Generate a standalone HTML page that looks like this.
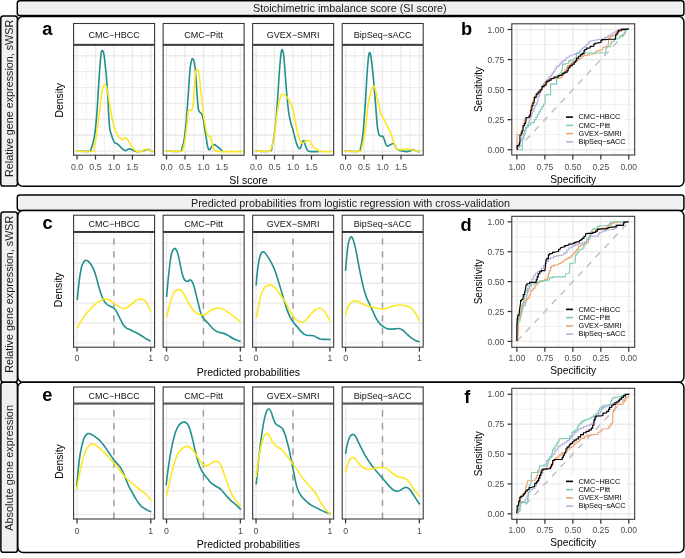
<!DOCTYPE html>
<html><head><meta charset="utf-8"><style>
html,body{margin:0;padding:0;background:#fff;}
svg{display:block;will-change:transform;}
text{font-family:"Liberation Sans", sans-serif;}
</style></head><body>
<svg width="685" height="558" viewBox="0 0 685 558">
<rect width="685" height="558" fill="#fff"/>
<rect x="17.3" y="0.8" width="666.6" height="14.7" rx="2.6" fill="#fff" stroke="#000" stroke-width="1.5"/>
<rect x="18.75" y="2.25" width="663.7" height="11.8" rx="1.15" fill="#F0F0F0"/>
<rect x="17.3" y="195" width="666.6" height="15.4" rx="2.6" fill="#fff" stroke="#000" stroke-width="1.5"/>
<rect x="18.75" y="196.45" width="663.7" height="12.5" rx="1.15" fill="#F0F0F0"/>
<rect x="0.8" y="16.1" width="16.6" height="169.9" rx="2.6" fill="#fff" stroke="#000" stroke-width="1.5"/>
<rect x="2.25" y="17.55" width="13.7" height="167" rx="1.15" fill="#F0F0F0"/>
<rect x="0.9" y="211.9" width="16.5" height="170.3" rx="2.6" fill="#fff" stroke="#000" stroke-width="1.5"/>
<rect x="2.35" y="213.35" width="13.6" height="167.4" rx="1.15" fill="#F0F0F0"/>
<rect x="0.9" y="382.2" width="16.5" height="170.1" rx="2.6" fill="#fff" stroke="#000" stroke-width="1.5"/>
<rect x="2.35" y="383.65" width="13.6" height="167.2" rx="1.15" fill="#F0F0F0"/>
<rect x="17.5" y="16.45" width="666.4" height="169.85" rx="5.2" fill="#fff" stroke="#000" stroke-width="1.5"/>
<rect x="17.8" y="210.5" width="666.1" height="171.7" rx="5.2" fill="#fff" stroke="#000" stroke-width="1.5"/>
<rect x="17.8" y="382.2" width="666.1" height="170.3" rx="5.2" fill="#fff" stroke="#000" stroke-width="1.5"/>
<text x="349.8" y="11.7" font-size="10.83" text-anchor="middle" fill="#1A1A1A" font-weight="normal">Stoichimetric imbalance score (SI score)</text>
<text x="350.5" y="206.5" font-size="10.76" text-anchor="middle" fill="#1A1A1A" font-weight="normal">Predicted probabilities from logistic regression with cross-validation</text>
<text x="13.3" y="98.4" font-size="10.76" text-anchor="middle" fill="#1A1A1A" font-weight="normal" transform="rotate(-90 13.3 98.4)">Relative gene expression, sWSR</text>
<text x="13.3" y="294.3" font-size="10.76" text-anchor="middle" fill="#1A1A1A" font-weight="normal" transform="rotate(-90 13.3 294.3)">Relative gene expression, sWSR</text>
<text x="13.4" y="467.9" font-size="10.95" text-anchor="middle" fill="#1A1A1A" font-weight="normal" transform="rotate(-90 13.4 467.9)">Absolute gene expression</text>
<rect x="73.6" y="45.3" width="81" height="109.9" fill="#fff"/>
<line x1="73.6" y1="55.7" x2="154.6" y2="55.7" stroke="#EBEBEB" stroke-width="1.4"/>
<line x1="73.6" y1="71.6" x2="154.6" y2="71.6" stroke="#EBEBEB" stroke-width="1.4"/>
<line x1="73.6" y1="87.6" x2="154.6" y2="87.6" stroke="#EBEBEB" stroke-width="1.4"/>
<line x1="73.6" y1="103.5" x2="154.6" y2="103.5" stroke="#EBEBEB" stroke-width="1.4"/>
<line x1="73.6" y1="119.4" x2="154.6" y2="119.4" stroke="#EBEBEB" stroke-width="1.4"/>
<line x1="73.6" y1="135.3" x2="154.6" y2="135.3" stroke="#EBEBEB" stroke-width="1.4"/>
<line x1="73.6" y1="151.1" x2="154.6" y2="151.1" stroke="#EBEBEB" stroke-width="1.4"/>
<line x1="77" y1="45.3" x2="77" y2="155.2" stroke="#EBEBEB" stroke-width="1.4"/>
<line x1="86.23" y1="45.3" x2="86.23" y2="155.2" stroke="#EBEBEB" stroke-width="0.75"/>
<line x1="95.47" y1="45.3" x2="95.47" y2="155.2" stroke="#EBEBEB" stroke-width="1.4"/>
<line x1="104.7" y1="45.3" x2="104.7" y2="155.2" stroke="#EBEBEB" stroke-width="0.75"/>
<line x1="113.94" y1="45.3" x2="113.94" y2="155.2" stroke="#EBEBEB" stroke-width="1.4"/>
<line x1="123.17" y1="45.3" x2="123.17" y2="155.2" stroke="#EBEBEB" stroke-width="0.75"/>
<line x1="132.41" y1="45.3" x2="132.41" y2="155.2" stroke="#EBEBEB" stroke-width="1.4"/>
<line x1="141.64" y1="45.3" x2="141.64" y2="155.2" stroke="#EBEBEB" stroke-width="0.75"/>
<line x1="150.88" y1="45.3" x2="150.88" y2="155.2" stroke="#EBEBEB" stroke-width="1.4"/>
<clipPath id="ca0"><rect x="73.6" y="45.3" width="81" height="109.9"/></clipPath>
<path d="M75.99,151.22 C78.31,151.22 87.43,151.56 89.92,151.22 C92.41,150.89 90.42,150.55 90.92,149.22 C91.41,147.88 92.24,145.88 92.91,143.2 C93.57,140.53 94.23,138.19 94.9,133.18 C95.56,128.17 96.32,120.16 96.89,113.14 C97.45,106.13 97.78,98.78 98.28,91.1 C98.78,83.41 99.37,73.39 99.87,67.05 C100.37,60.7 100.83,55.76 101.26,53.02 C101.69,50.28 102.03,50.44 102.46,50.61 C102.89,50.78 103.39,51.61 103.85,54.02 C104.32,56.42 104.81,61.2 105.24,65.04 C105.67,68.88 106.01,71.72 106.44,77.07 C106.87,82.41 107.43,90.43 107.83,97.11 C108.23,103.79 108.49,111.81 108.83,117.15 C109.16,122.49 109.42,126.34 109.82,129.18 C110.22,132.01 110.72,132.52 111.21,134.19 C111.71,135.86 112.21,137.76 112.81,139.2 C113.4,140.63 114.13,142.07 114.8,142.8 C115.46,143.54 116.12,143.2 116.79,143.61 C117.45,144.01 118.11,144.61 118.78,145.21 C119.44,145.81 120.1,146.54 120.77,147.21 C121.43,147.88 121.99,148.62 122.76,149.22 C123.52,149.82 124.58,150.75 125.34,150.82 C126.11,150.89 126.6,149.95 127.33,149.62 C128.06,149.28 128.93,148.78 129.72,148.82 C130.52,148.85 131.28,149.42 132.11,149.82 C132.94,150.22 133.77,150.92 134.7,151.22 C135.63,151.52 136.52,151.62 137.68,151.62 C138.84,151.62 140.5,151.42 141.66,151.22 C142.82,151.02 143.82,150.69 144.65,150.42 C145.48,150.15 145.97,149.75 146.64,149.62 C147.3,149.48 147.96,149.42 148.63,149.62 C149.29,149.82 149.85,150.49 150.62,150.82 C151.38,151.15 152.77,151.49 153.2,151.62" fill="none" stroke="#21908C" stroke-width="1.6" stroke-linejoin="round" stroke-linecap="butt" clip-path="url(#ca0)"/>
<path d="M75.99,151.22 C78.81,151.22 89.92,151.89 92.91,151.22 C95.89,150.55 93.4,149.22 93.9,147.21 C94.4,145.21 95.23,142.87 95.89,139.2 C96.55,135.52 97.22,130.18 97.88,125.17 C98.54,120.16 99.21,114.48 99.87,109.13 C100.53,103.79 101.26,96.94 101.86,93.1 C102.46,89.26 102.96,87.49 103.45,86.09 C103.95,84.68 104.35,84.52 104.85,84.68 C105.34,84.85 105.87,85.35 106.44,87.09 C107,88.82 107.67,92.1 108.23,95.1 C108.79,98.11 109.22,101.45 109.82,105.13 C110.42,108.8 111.15,113.81 111.81,117.15 C112.47,120.49 113.14,122.83 113.8,125.17 C114.46,127.51 115.06,129.34 115.79,131.18 C116.52,133.02 117.35,134.92 118.18,136.19 C119.01,137.46 119.9,138.29 120.77,138.8 C121.63,139.3 122.59,139.4 123.35,139.2 C124.12,139 124.68,137.59 125.34,137.59 C126.01,137.59 126.6,138.26 127.33,139.2 C128.06,140.13 128.93,141.87 129.72,143.2 C130.52,144.54 131.28,146.04 132.11,147.21 C132.94,148.38 133.77,149.48 134.7,150.22 C135.63,150.95 136.69,151.39 137.68,151.62 C138.68,151.86 139.67,151.86 140.67,151.62 C141.66,151.39 142.76,150.62 143.65,150.22 C144.55,149.82 145.21,149.22 146.04,149.22 C146.87,149.22 147.7,149.89 148.63,150.22 C149.56,150.55 150.78,150.99 151.61,151.22 C152.44,151.46 153.27,151.56 153.6,151.62" fill="none" stroke="#FDE725" stroke-width="1.6" stroke-linejoin="round" stroke-linecap="butt" clip-path="url(#ca0)"/>
<rect x="73.6" y="45.3" width="81" height="109.9" fill="none" stroke="#333333" stroke-width="1.07"/>
<rect x="73.6" y="23.5" width="81" height="20.9" fill="#fff" stroke="#333333" stroke-width="1.07"/>
<text x="114.1" y="37.55" font-size="9" text-anchor="middle" fill="#111" font-weight="normal">CMC−HBCC</text>
<line x1="77" y1="155.2" x2="77" y2="159.6" stroke="#333333" stroke-width="1.25"/>
<text x="77" y="170.3" font-size="8.8" text-anchor="middle" fill="#4D4D4D" font-weight="normal">0.0</text>
<line x1="95.47" y1="155.2" x2="95.47" y2="159.6" stroke="#333333" stroke-width="1.25"/>
<text x="95.47" y="170.3" font-size="8.8" text-anchor="middle" fill="#4D4D4D" font-weight="normal">0.5</text>
<line x1="113.94" y1="155.2" x2="113.94" y2="159.6" stroke="#333333" stroke-width="1.25"/>
<text x="113.94" y="170.3" font-size="8.8" text-anchor="middle" fill="#4D4D4D" font-weight="normal">1.0</text>
<line x1="132.41" y1="155.2" x2="132.41" y2="159.6" stroke="#333333" stroke-width="1.25"/>
<text x="132.41" y="170.3" font-size="8.8" text-anchor="middle" fill="#4D4D4D" font-weight="normal">1.5</text>
<rect x="163.13" y="45.3" width="81" height="109.9" fill="#fff"/>
<line x1="163.13" y1="55.7" x2="244.13" y2="55.7" stroke="#EBEBEB" stroke-width="1.4"/>
<line x1="163.13" y1="71.6" x2="244.13" y2="71.6" stroke="#EBEBEB" stroke-width="1.4"/>
<line x1="163.13" y1="87.6" x2="244.13" y2="87.6" stroke="#EBEBEB" stroke-width="1.4"/>
<line x1="163.13" y1="103.5" x2="244.13" y2="103.5" stroke="#EBEBEB" stroke-width="1.4"/>
<line x1="163.13" y1="119.4" x2="244.13" y2="119.4" stroke="#EBEBEB" stroke-width="1.4"/>
<line x1="163.13" y1="135.3" x2="244.13" y2="135.3" stroke="#EBEBEB" stroke-width="1.4"/>
<line x1="163.13" y1="151.1" x2="244.13" y2="151.1" stroke="#EBEBEB" stroke-width="1.4"/>
<line x1="166.53" y1="45.3" x2="166.53" y2="155.2" stroke="#EBEBEB" stroke-width="1.4"/>
<line x1="175.76" y1="45.3" x2="175.76" y2="155.2" stroke="#EBEBEB" stroke-width="0.75"/>
<line x1="185" y1="45.3" x2="185" y2="155.2" stroke="#EBEBEB" stroke-width="1.4"/>
<line x1="194.24" y1="45.3" x2="194.24" y2="155.2" stroke="#EBEBEB" stroke-width="0.75"/>
<line x1="203.47" y1="45.3" x2="203.47" y2="155.2" stroke="#EBEBEB" stroke-width="1.4"/>
<line x1="212.7" y1="45.3" x2="212.7" y2="155.2" stroke="#EBEBEB" stroke-width="0.75"/>
<line x1="221.94" y1="45.3" x2="221.94" y2="155.2" stroke="#EBEBEB" stroke-width="1.4"/>
<line x1="231.18" y1="45.3" x2="231.18" y2="155.2" stroke="#EBEBEB" stroke-width="0.75"/>
<line x1="240.41" y1="45.3" x2="240.41" y2="155.2" stroke="#EBEBEB" stroke-width="1.4"/>
<clipPath id="ca1"><rect x="163.13" y="45.3" width="81" height="109.9"/></clipPath>
<path d="M164.99,151.22 C167.48,151.22 177.1,151.72 179.92,151.22 C182.73,150.72 181.24,149.89 181.91,148.22 C182.57,146.54 183.23,145.04 183.9,141.2 C184.56,137.36 185.29,131.18 185.89,125.17 C186.48,119.15 186.98,111.81 187.48,105.13 C187.98,98.44 188.41,91.43 188.87,85.08 C189.33,78.74 189.77,71.32 190.26,67.05 C190.76,62.77 191.42,60.77 191.86,59.43 C192.29,58.09 192.45,58.6 192.85,59.03 C193.25,59.46 193.81,60.03 194.24,62.04 C194.67,64.04 195.07,67.21 195.44,71.05 C195.8,74.9 196.1,80.41 196.43,85.08 C196.76,89.76 197.1,95.1 197.43,99.11 C197.76,103.12 198.02,106.96 198.42,109.13 C198.82,111.3 199.25,111.3 199.82,112.14 C200.38,112.98 201.24,112.98 201.81,114.14 C202.37,115.31 202.7,116.65 203.2,119.15 C203.7,121.66 204.26,125.84 204.79,129.18 C205.32,132.52 205.89,136.19 206.38,139.2 C206.88,142.2 207.31,145.48 207.78,147.21 C208.24,148.95 208.67,149.45 209.17,149.62 C209.67,149.79 210.16,148.95 210.76,148.22 C211.36,147.48 212.09,145.81 212.75,145.21 C213.41,144.61 214.08,144.44 214.74,144.61 C215.4,144.77 215.97,145.61 216.73,146.21 C217.49,146.81 218.56,147.55 219.32,148.22 C220.08,148.88 220.74,149.72 221.31,150.22 C221.87,150.72 222.47,151.05 222.7,151.22" fill="none" stroke="#21908C" stroke-width="1.6" stroke-linejoin="round" stroke-linecap="butt" clip-path="url(#ca1)"/>
<path d="M164.99,151.22 C167.64,151.22 177.93,151.56 180.91,151.22 C183.9,150.89 182.24,150.89 182.9,149.22 C183.56,147.55 184.23,145.21 184.89,141.2 C185.55,137.19 186.32,130.18 186.88,125.17 C187.44,120.16 187.78,113.64 188.27,111.14 C188.77,108.63 189.27,110.3 189.87,110.14 C190.46,109.97 191.29,111.3 191.86,110.14 C192.42,108.97 192.85,106.63 193.25,103.12 C193.65,99.61 193.91,93.77 194.24,89.09 C194.58,84.42 194.87,78.4 195.24,75.06 C195.6,71.72 196,69.89 196.43,69.05 C196.86,68.22 197.36,69.05 197.83,70.05 C198.29,71.05 198.72,71.56 199.22,75.06 C199.72,78.57 200.28,86.09 200.81,91.1 C201.34,96.11 201.91,100.78 202.4,105.13 C202.9,109.47 203.33,113.81 203.8,117.15 C204.26,120.49 204.69,122.49 205.19,125.17 C205.69,127.84 206.25,131.35 206.78,133.18 C207.31,135.02 207.78,135.59 208.37,136.19 C208.97,136.79 209.8,135.96 210.36,136.79 C210.93,137.63 211.29,139.46 211.76,141.2 C212.22,142.94 212.65,145.71 213.15,147.21 C213.65,148.72 214.14,149.55 214.74,150.22 C215.34,150.89 215.4,150.99 216.73,151.22 C218.06,151.46 218.39,151.56 222.7,151.62 C227.01,151.69 239.29,151.62 242.6,151.62" fill="none" stroke="#FDE725" stroke-width="1.6" stroke-linejoin="round" stroke-linecap="butt" clip-path="url(#ca1)"/>
<rect x="163.13" y="45.3" width="81" height="109.9" fill="none" stroke="#333333" stroke-width="1.07"/>
<rect x="163.13" y="23.5" width="81" height="20.9" fill="#fff" stroke="#333333" stroke-width="1.07"/>
<text x="203.63" y="37.55" font-size="9" text-anchor="middle" fill="#111" font-weight="normal">CMC−Pitt</text>
<line x1="166.53" y1="155.2" x2="166.53" y2="159.6" stroke="#333333" stroke-width="1.25"/>
<text x="166.53" y="170.3" font-size="8.8" text-anchor="middle" fill="#4D4D4D" font-weight="normal">0.0</text>
<line x1="185" y1="155.2" x2="185" y2="159.6" stroke="#333333" stroke-width="1.25"/>
<text x="185" y="170.3" font-size="8.8" text-anchor="middle" fill="#4D4D4D" font-weight="normal">0.5</text>
<line x1="203.47" y1="155.2" x2="203.47" y2="159.6" stroke="#333333" stroke-width="1.25"/>
<text x="203.47" y="170.3" font-size="8.8" text-anchor="middle" fill="#4D4D4D" font-weight="normal">1.0</text>
<line x1="221.94" y1="155.2" x2="221.94" y2="159.6" stroke="#333333" stroke-width="1.25"/>
<text x="221.94" y="170.3" font-size="8.8" text-anchor="middle" fill="#4D4D4D" font-weight="normal">1.5</text>
<rect x="252.66" y="45.3" width="81" height="109.9" fill="#fff"/>
<line x1="252.66" y1="55.7" x2="333.66" y2="55.7" stroke="#EBEBEB" stroke-width="1.4"/>
<line x1="252.66" y1="71.6" x2="333.66" y2="71.6" stroke="#EBEBEB" stroke-width="1.4"/>
<line x1="252.66" y1="87.6" x2="333.66" y2="87.6" stroke="#EBEBEB" stroke-width="1.4"/>
<line x1="252.66" y1="103.5" x2="333.66" y2="103.5" stroke="#EBEBEB" stroke-width="1.4"/>
<line x1="252.66" y1="119.4" x2="333.66" y2="119.4" stroke="#EBEBEB" stroke-width="1.4"/>
<line x1="252.66" y1="135.3" x2="333.66" y2="135.3" stroke="#EBEBEB" stroke-width="1.4"/>
<line x1="252.66" y1="151.1" x2="333.66" y2="151.1" stroke="#EBEBEB" stroke-width="1.4"/>
<line x1="256.06" y1="45.3" x2="256.06" y2="155.2" stroke="#EBEBEB" stroke-width="1.4"/>
<line x1="265.3" y1="45.3" x2="265.3" y2="155.2" stroke="#EBEBEB" stroke-width="0.75"/>
<line x1="274.53" y1="45.3" x2="274.53" y2="155.2" stroke="#EBEBEB" stroke-width="1.4"/>
<line x1="283.76" y1="45.3" x2="283.76" y2="155.2" stroke="#EBEBEB" stroke-width="0.75"/>
<line x1="293" y1="45.3" x2="293" y2="155.2" stroke="#EBEBEB" stroke-width="1.4"/>
<line x1="302.24" y1="45.3" x2="302.24" y2="155.2" stroke="#EBEBEB" stroke-width="0.75"/>
<line x1="311.47" y1="45.3" x2="311.47" y2="155.2" stroke="#EBEBEB" stroke-width="1.4"/>
<line x1="320.7" y1="45.3" x2="320.7" y2="155.2" stroke="#EBEBEB" stroke-width="0.75"/>
<line x1="329.94" y1="45.3" x2="329.94" y2="155.2" stroke="#EBEBEB" stroke-width="1.4"/>
<clipPath id="ca2"><rect x="252.66" y="45.3" width="81" height="109.9"/></clipPath>
<path d="M254.99,151.22 C257.48,151.22 267.1,151.89 269.92,151.22 C272.73,150.55 271.24,149.55 271.91,147.21 C272.57,144.87 273.23,141.53 273.9,137.19 C274.56,132.85 275.29,127.17 275.89,121.16 C276.48,115.15 276.98,108.13 277.48,101.12 C277.98,94.1 278.41,85.75 278.87,79.07 C279.33,72.39 279.83,65.71 280.26,61.03 C280.69,56.36 281.09,52.85 281.46,51.01 C281.82,49.18 282.09,49.34 282.45,50.01 C282.82,50.68 283.25,51.85 283.65,55.02 C284.04,58.19 284.44,64.04 284.84,69.05 C285.24,74.06 285.64,80.07 286.03,85.08 C286.43,90.09 286.76,94.44 287.23,99.11 C287.69,103.79 288.22,109.13 288.82,113.14 C289.42,117.15 290.15,120.49 290.81,123.16 C291.47,125.84 292.14,126.84 292.8,129.18 C293.46,131.51 294.13,134.69 294.79,137.19 C295.45,139.7 296.12,142.37 296.78,144.21 C297.44,146.04 298.17,147.55 298.77,148.22 C299.37,148.88 299.87,148.88 300.36,148.22 C300.86,147.55 301.29,145.44 301.76,144.21 C302.22,142.97 302.72,141.3 303.15,140.8 C303.58,140.3 303.98,140.47 304.34,141.2 C304.71,141.94 304.94,143.87 305.34,145.21 C305.74,146.54 306.17,148.22 306.73,149.22 C307.3,150.22 307.73,150.82 308.72,151.22 C309.72,151.62 311.04,151.56 312.7,151.62 C314.36,151.69 317.68,151.62 318.67,151.62" fill="none" stroke="#21908C" stroke-width="1.6" stroke-linejoin="round" stroke-linecap="butt" clip-path="url(#ca2)"/>
<path d="M254.99,151.22 C257.31,151.22 266.27,151.56 268.92,151.22 C271.57,150.89 270.25,150.55 270.91,149.22 C271.57,147.88 272.24,146.21 272.9,143.2 C273.56,140.2 274.23,135.86 274.89,131.18 C275.55,126.5 276.22,119.82 276.88,115.15 C277.54,110.47 278.21,106.29 278.87,103.12 C279.53,99.95 280.2,97.61 280.86,96.11 C281.52,94.6 282.19,94.27 282.85,94.1 C283.51,93.94 284.18,94.6 284.84,95.1 C285.5,95.61 286.17,96.27 286.83,97.11 C287.49,97.94 288.16,99.11 288.82,100.11 C289.48,101.12 290.15,101.62 290.81,103.12 C291.47,104.62 292.14,106.46 292.8,109.13 C293.46,111.81 294.13,115.81 294.79,119.15 C295.45,122.49 296.12,126.17 296.78,129.18 C297.44,132.18 298.11,135.02 298.77,137.19 C299.43,139.36 300.1,141.2 300.76,142.2 C301.42,143.2 302.02,143.3 302.75,143.2 C303.48,143.1 304.31,142.1 305.14,141.6 C305.97,141.1 306.96,140.27 307.73,140.2 C308.49,140.13 309.05,140.53 309.72,141.2 C310.38,141.87 311.04,143.2 311.71,144.21 C312.37,145.21 312.87,146.38 313.7,147.21 C314.53,148.05 315.69,148.62 316.68,149.22 C317.68,149.82 318.67,150.42 319.67,150.82 C320.66,151.22 320.5,151.49 322.65,151.62 C324.81,151.76 330.94,151.62 332.6,151.62" fill="none" stroke="#FDE725" stroke-width="1.6" stroke-linejoin="round" stroke-linecap="butt" clip-path="url(#ca2)"/>
<rect x="252.66" y="45.3" width="81" height="109.9" fill="none" stroke="#333333" stroke-width="1.07"/>
<rect x="252.66" y="23.5" width="81" height="20.9" fill="#fff" stroke="#333333" stroke-width="1.07"/>
<text x="293.16" y="37.55" font-size="9" text-anchor="middle" fill="#111" font-weight="normal">GVEX−SMRI</text>
<line x1="256.06" y1="155.2" x2="256.06" y2="159.6" stroke="#333333" stroke-width="1.25"/>
<text x="256.06" y="170.3" font-size="8.8" text-anchor="middle" fill="#4D4D4D" font-weight="normal">0.0</text>
<line x1="274.53" y1="155.2" x2="274.53" y2="159.6" stroke="#333333" stroke-width="1.25"/>
<text x="274.53" y="170.3" font-size="8.8" text-anchor="middle" fill="#4D4D4D" font-weight="normal">0.5</text>
<line x1="293" y1="155.2" x2="293" y2="159.6" stroke="#333333" stroke-width="1.25"/>
<text x="293" y="170.3" font-size="8.8" text-anchor="middle" fill="#4D4D4D" font-weight="normal">1.0</text>
<line x1="311.47" y1="155.2" x2="311.47" y2="159.6" stroke="#333333" stroke-width="1.25"/>
<text x="311.47" y="170.3" font-size="8.8" text-anchor="middle" fill="#4D4D4D" font-weight="normal">1.5</text>
<rect x="342.19" y="45.3" width="81" height="109.9" fill="#fff"/>
<line x1="342.19" y1="55.7" x2="423.19" y2="55.7" stroke="#EBEBEB" stroke-width="1.4"/>
<line x1="342.19" y1="71.6" x2="423.19" y2="71.6" stroke="#EBEBEB" stroke-width="1.4"/>
<line x1="342.19" y1="87.6" x2="423.19" y2="87.6" stroke="#EBEBEB" stroke-width="1.4"/>
<line x1="342.19" y1="103.5" x2="423.19" y2="103.5" stroke="#EBEBEB" stroke-width="1.4"/>
<line x1="342.19" y1="119.4" x2="423.19" y2="119.4" stroke="#EBEBEB" stroke-width="1.4"/>
<line x1="342.19" y1="135.3" x2="423.19" y2="135.3" stroke="#EBEBEB" stroke-width="1.4"/>
<line x1="342.19" y1="151.1" x2="423.19" y2="151.1" stroke="#EBEBEB" stroke-width="1.4"/>
<line x1="345.59" y1="45.3" x2="345.59" y2="155.2" stroke="#EBEBEB" stroke-width="1.4"/>
<line x1="354.83" y1="45.3" x2="354.83" y2="155.2" stroke="#EBEBEB" stroke-width="0.75"/>
<line x1="364.06" y1="45.3" x2="364.06" y2="155.2" stroke="#EBEBEB" stroke-width="1.4"/>
<line x1="373.3" y1="45.3" x2="373.3" y2="155.2" stroke="#EBEBEB" stroke-width="0.75"/>
<line x1="382.53" y1="45.3" x2="382.53" y2="155.2" stroke="#EBEBEB" stroke-width="1.4"/>
<line x1="391.77" y1="45.3" x2="391.77" y2="155.2" stroke="#EBEBEB" stroke-width="0.75"/>
<line x1="401" y1="45.3" x2="401" y2="155.2" stroke="#EBEBEB" stroke-width="1.4"/>
<line x1="410.24" y1="45.3" x2="410.24" y2="155.2" stroke="#EBEBEB" stroke-width="0.75"/>
<line x1="419.47" y1="45.3" x2="419.47" y2="155.2" stroke="#EBEBEB" stroke-width="1.4"/>
<clipPath id="ca3"><rect x="342.19" y="45.3" width="81" height="109.9"/></clipPath>
<path d="M343.99,151.22 C346.48,151.22 356.16,151.72 358.92,151.22 C361.67,150.72 359.94,150.22 360.51,148.22 C361.07,146.21 361.73,143.37 362.3,139.2 C362.86,135.02 363.36,129.51 363.89,123.16 C364.42,116.82 364.99,108.8 365.48,101.12 C365.98,93.43 366.41,84.08 366.88,77.07 C367.34,70.05 367.84,63.1 368.27,59.03 C368.7,54.95 369.03,53.12 369.46,52.62 C369.89,52.11 370.39,53.62 370.86,56.02 C371.32,58.43 371.75,62.54 372.25,67.05 C372.75,71.56 373.38,78.07 373.84,83.08 C374.31,88.09 374.64,92.1 375.03,97.11 C375.43,102.12 375.83,108.13 376.23,113.14 C376.63,118.15 376.99,123.66 377.42,127.17 C377.85,130.68 378.25,132.68 378.82,134.19 C379.38,135.69 380.14,135.86 380.81,136.19 C381.47,136.52 382.23,135.69 382.8,136.19 C383.36,136.69 383.69,137.86 384.19,139.2 C384.69,140.53 385.25,143.04 385.78,144.21 C386.31,145.38 386.78,146.04 387.37,146.21 C387.97,146.38 388.7,145.54 389.36,145.21 C390.03,144.87 390.62,144.47 391.35,144.21 C392.08,143.94 393.01,143.1 393.74,143.61 C394.47,144.11 395.07,146.21 395.73,147.21 C396.39,148.22 396.89,149.02 397.72,149.62 C398.55,150.22 399.71,150.55 400.71,150.82 C401.7,151.09 402.53,151.09 403.69,151.22 C404.85,151.36 406.51,151.69 407.67,151.62 C408.83,151.56 409.83,151.15 410.66,150.82 C411.49,150.49 411.98,149.72 412.65,149.62 C413.31,149.52 413.97,149.95 414.64,150.22 C415.3,150.49 415.8,150.99 416.63,151.22 C417.46,151.46 419.11,151.56 419.61,151.62" fill="none" stroke="#21908C" stroke-width="1.6" stroke-linejoin="round" stroke-linecap="butt" clip-path="url(#ca3)"/>
<path d="M343.99,151.22 C346.64,151.22 356.93,151.89 359.91,151.22 C362.9,150.55 361.24,149.22 361.9,147.21 C362.56,145.21 363.29,142.2 363.89,139.2 C364.49,136.19 364.99,133.18 365.48,129.18 C365.98,125.17 366.38,119.49 366.88,115.15 C367.37,110.8 367.9,106.46 368.47,103.12 C369.03,99.78 369.69,97.44 370.26,95.1 C370.82,92.77 371.25,90.6 371.85,89.09 C372.45,87.59 373.24,85.92 373.84,86.09 C374.44,86.25 374.9,88.26 375.43,90.09 C375.96,91.93 376.46,94.6 377.02,97.11 C377.59,99.61 378.19,102.45 378.82,105.13 C379.45,107.8 380.14,111.14 380.81,113.14 C381.47,115.15 382.13,115.81 382.8,117.15 C383.46,118.49 384.12,119.82 384.79,121.16 C385.45,122.49 386.11,123.83 386.78,125.17 C387.44,126.5 388.1,127.84 388.77,129.18 C389.43,130.51 390.09,131.51 390.76,133.18 C391.42,134.85 392.08,137.19 392.75,139.2 C393.41,141.2 394.07,143.61 394.74,145.21 C395.4,146.81 396.06,148.08 396.73,148.82 C397.39,149.55 397.89,149.48 398.72,149.62 C399.55,149.75 400.54,149.68 401.7,149.62 C402.86,149.55 404.52,149.28 405.68,149.22 C406.84,149.15 407.67,149.15 408.67,149.22 C409.66,149.28 410.82,149.45 411.65,149.62 C412.48,149.79 412.81,149.95 413.64,150.22 C414.47,150.49 415.63,150.99 416.63,151.22 C417.62,151.46 419.11,151.56 419.61,151.62" fill="none" stroke="#FDE725" stroke-width="1.6" stroke-linejoin="round" stroke-linecap="butt" clip-path="url(#ca3)"/>
<rect x="342.19" y="45.3" width="81" height="109.9" fill="none" stroke="#333333" stroke-width="1.07"/>
<rect x="342.19" y="23.5" width="81" height="20.9" fill="#fff" stroke="#333333" stroke-width="1.07"/>
<text x="382.69" y="37.55" font-size="9" text-anchor="middle" fill="#111" font-weight="normal">BipSeq−sACC</text>
<line x1="345.59" y1="155.2" x2="345.59" y2="159.6" stroke="#333333" stroke-width="1.25"/>
<text x="345.59" y="170.3" font-size="8.8" text-anchor="middle" fill="#4D4D4D" font-weight="normal">0.0</text>
<line x1="364.06" y1="155.2" x2="364.06" y2="159.6" stroke="#333333" stroke-width="1.25"/>
<text x="364.06" y="170.3" font-size="8.8" text-anchor="middle" fill="#4D4D4D" font-weight="normal">0.5</text>
<line x1="382.53" y1="155.2" x2="382.53" y2="159.6" stroke="#333333" stroke-width="1.25"/>
<text x="382.53" y="170.3" font-size="8.8" text-anchor="middle" fill="#4D4D4D" font-weight="normal">1.0</text>
<line x1="401" y1="155.2" x2="401" y2="159.6" stroke="#333333" stroke-width="1.25"/>
<text x="401" y="170.3" font-size="8.8" text-anchor="middle" fill="#4D4D4D" font-weight="normal">1.5</text>
<text x="62.5" y="100.25" font-size="10.4" text-anchor="middle" fill="#000" font-weight="normal" transform="rotate(-90 62.5 100.25)">Density</text>
<text x="248.4" y="183.6" font-size="10.5" text-anchor="middle" fill="#000" font-weight="normal">SI score</text>
<rect x="73.6" y="232.4" width="81" height="114.8" fill="#fff"/>
<line x1="73.6" y1="243.4" x2="154.6" y2="243.4" stroke="#EBEBEB" stroke-width="1.4"/>
<line x1="73.6" y1="263.3" x2="154.6" y2="263.3" stroke="#EBEBEB" stroke-width="1.4"/>
<line x1="73.6" y1="283.2" x2="154.6" y2="283.2" stroke="#EBEBEB" stroke-width="1.4"/>
<line x1="73.6" y1="303.1" x2="154.6" y2="303.1" stroke="#EBEBEB" stroke-width="1.4"/>
<line x1="73.6" y1="323" x2="154.6" y2="323" stroke="#EBEBEB" stroke-width="1.4"/>
<line x1="73.6" y1="342.9" x2="154.6" y2="342.9" stroke="#EBEBEB" stroke-width="1.4"/>
<line x1="77" y1="232.4" x2="77" y2="347.2" stroke="#EBEBEB" stroke-width="1.4"/>
<line x1="113.9" y1="232.4" x2="113.9" y2="347.2" stroke="#EBEBEB" stroke-width="0.75"/>
<line x1="150.8" y1="232.4" x2="150.8" y2="347.2" stroke="#EBEBEB" stroke-width="1.4"/>
<line x1="113.9" y1="347.2" x2="113.9" y2="232.4" stroke="#9A9A9A" stroke-width="1.45" stroke-dasharray="6.4 6.4"/>
<clipPath id="cc0"><rect x="73.6" y="232.4" width="81" height="114.8"/></clipPath>
<path d="M77.2,300.2 C77.37,298.45 77.83,293.56 78.25,289.71 C78.67,285.87 79.19,280.8 79.72,277.13 C80.24,273.46 80.76,270.14 81.39,267.7 C82.02,265.25 82.79,263.68 83.49,262.45 C84.19,261.23 84.89,260.6 85.59,260.36 C86.29,260.11 86.99,260.57 87.69,260.99 C88.39,261.4 89.02,261.93 89.79,262.87 C90.56,263.82 91.5,265.14 92.31,266.65 C93.11,268.15 93.88,269.86 94.62,271.89 C95.35,273.92 96.05,276.47 96.71,278.81 C97.38,281.15 97.94,283.6 98.6,285.94 C99.27,288.28 100,290.76 100.7,292.86 C101.4,294.95 102.1,296.95 102.8,298.52 C103.5,300.09 104.09,301.25 104.9,302.29 C105.7,303.34 106.65,304.11 107.63,304.81 C108.61,305.51 109.73,305.93 110.78,306.49 C111.82,307.05 113.05,307.47 113.92,308.17 C114.8,308.86 115.32,309.56 116.02,310.68 C116.72,311.8 117.32,313.3 118.12,314.88 C118.93,316.45 119.97,318.44 120.85,320.12 C121.72,321.79 122.42,323.61 123.37,324.94 C124.31,326.27 125.47,327.32 126.52,328.09 C127.56,328.85 128.44,328.96 129.66,329.55 C130.89,330.15 132.46,330.95 133.86,331.65 C135.26,332.35 136.66,332.98 138.06,333.75 C139.46,334.52 140.86,335.39 142.25,336.26 C143.65,337.14 145.05,338.19 146.45,338.99 C147.85,339.79 149.95,340.74 150.65,341.09" fill="none" stroke="#21908C" stroke-width="1.6" stroke-linejoin="round" stroke-linecap="butt" clip-path="url(#cc0)"/>
<path d="M77.2,328.5 C77.55,327.81 78.42,325.88 79.3,324.31 C80.17,322.74 81.39,320.71 82.44,319.07 C83.49,317.43 84.54,315.85 85.59,314.46 C86.64,313.06 87.69,311.83 88.74,310.68 C89.79,309.53 90.84,308.58 91.89,307.54 C92.94,306.49 93.99,305.33 95.04,304.39 C96.08,303.45 97.13,302.57 98.18,301.87 C99.23,301.18 100.28,300.65 101.33,300.2 C102.38,299.74 103.54,299.29 104.48,299.15 C105.42,299.01 106.12,299.18 107,299.36 C107.87,299.53 108.75,299.71 109.73,300.2 C110.71,300.69 111.82,301.52 112.87,302.29 C113.92,303.06 114.97,304.04 116.02,304.81 C117.07,305.58 118.12,306.35 119.17,306.91 C120.22,307.47 121.27,307.96 122.32,308.17 C123.37,308.37 124.42,308.44 125.47,308.17 C126.52,307.89 127.56,307.19 128.61,306.49 C129.66,305.79 130.71,304.84 131.76,303.97 C132.81,303.1 133.86,301.98 134.91,301.25 C135.96,300.51 137.01,299.92 138.06,299.57 C139.11,299.22 140.16,299.04 141.21,299.15 C142.25,299.25 143.41,299.5 144.35,300.2 C145.3,300.9 146.1,302.12 146.87,303.34 C147.64,304.57 148.27,306.14 148.97,307.54 C149.67,308.93 150.72,311.03 151.07,311.73" fill="none" stroke="#FDE725" stroke-width="1.6" stroke-linejoin="round" stroke-linecap="butt" clip-path="url(#cc0)"/>
<rect x="73.6" y="232.4" width="81" height="114.8" fill="none" stroke="#333333" stroke-width="1.07"/>
<rect x="73.6" y="215.2" width="81" height="16.3" fill="#fff" stroke="#333333" stroke-width="1.07"/>
<text x="114.1" y="226.95" font-size="9" text-anchor="middle" fill="#111" font-weight="normal">CMC−HBCC</text>
<line x1="77" y1="347.2" x2="77" y2="351.6" stroke="#333333" stroke-width="1.25"/>
<text x="77" y="361.4" font-size="8.8" text-anchor="middle" fill="#4D4D4D" font-weight="normal">0</text>
<line x1="150.8" y1="347.2" x2="150.8" y2="351.6" stroke="#333333" stroke-width="1.25"/>
<text x="150.8" y="361.4" font-size="8.8" text-anchor="middle" fill="#4D4D4D" font-weight="normal">1</text>
<rect x="163.13" y="232.4" width="81" height="114.8" fill="#fff"/>
<line x1="163.13" y1="243.4" x2="244.13" y2="243.4" stroke="#EBEBEB" stroke-width="1.4"/>
<line x1="163.13" y1="263.3" x2="244.13" y2="263.3" stroke="#EBEBEB" stroke-width="1.4"/>
<line x1="163.13" y1="283.2" x2="244.13" y2="283.2" stroke="#EBEBEB" stroke-width="1.4"/>
<line x1="163.13" y1="303.1" x2="244.13" y2="303.1" stroke="#EBEBEB" stroke-width="1.4"/>
<line x1="163.13" y1="323" x2="244.13" y2="323" stroke="#EBEBEB" stroke-width="1.4"/>
<line x1="163.13" y1="342.9" x2="244.13" y2="342.9" stroke="#EBEBEB" stroke-width="1.4"/>
<line x1="166.53" y1="232.4" x2="166.53" y2="347.2" stroke="#EBEBEB" stroke-width="1.4"/>
<line x1="203.43" y1="232.4" x2="203.43" y2="347.2" stroke="#EBEBEB" stroke-width="0.75"/>
<line x1="240.33" y1="232.4" x2="240.33" y2="347.2" stroke="#EBEBEB" stroke-width="1.4"/>
<line x1="203.43" y1="347.2" x2="203.43" y2="232.4" stroke="#9A9A9A" stroke-width="1.45" stroke-dasharray="6.4 6.4"/>
<clipPath id="cc1"><rect x="163.13" y="232.4" width="81" height="114.8"/></clipPath>
<path d="M166.57,297.05 C166.74,295.13 167.23,289.54 167.62,285.52 C168,281.5 168.42,277.13 168.88,272.94 C169.33,268.74 169.82,263.85 170.35,260.36 C170.87,256.86 171.43,253.89 172.02,251.97 C172.62,250.05 173.32,249.35 173.91,248.82 C174.51,248.3 175.03,248.3 175.59,248.82 C176.15,249.35 176.71,250.4 177.27,251.97 C177.83,253.54 178.39,255.81 178.95,258.26 C179.51,260.71 180.07,264.03 180.63,266.65 C181.19,269.27 181.75,271.96 182.31,273.99 C182.87,276.01 183.43,277.66 183.99,278.81 C184.55,279.96 185.04,280.49 185.67,280.91 C186.29,281.33 187.06,281.5 187.76,281.33 C188.46,281.15 189.16,279.86 189.86,279.86 C190.56,279.86 191.26,280.21 191.96,281.33 C192.66,282.44 193.36,284.3 194.06,286.57 C194.76,288.84 195.46,292.16 196.16,294.95 C196.86,297.75 197.56,300.55 198.26,303.34 C198.96,306.14 199.66,309.46 200.36,311.73 C201.06,314 201.68,315.57 202.45,316.97 C203.22,318.37 204.03,319.07 204.97,320.12 C205.92,321.17 207.07,322.11 208.12,323.26 C209.17,324.42 210.22,325.92 211.27,327.04 C212.32,328.16 213.3,329.13 214.42,329.97 C215.54,330.81 216.76,331.58 217.98,332.07 C219.21,332.56 220.61,332.63 221.76,332.91 C222.92,333.19 223.86,333.33 224.91,333.75 C225.96,334.17 226.83,334.73 228.06,335.42 C229.28,336.12 230.86,337.17 232.25,337.94 C233.65,338.71 235.05,339.44 236.45,340.04 C237.85,340.63 239.95,341.26 240.65,341.51" fill="none" stroke="#21908C" stroke-width="1.6" stroke-linejoin="round" stroke-linecap="butt" clip-path="url(#cc1)"/>
<path d="M166.57,316.97 C166.85,315.92 167.62,313.13 168.25,310.68 C168.88,308.23 169.65,304.74 170.35,302.29 C171.04,299.85 171.74,297.75 172.44,296 C173.14,294.26 173.74,292.86 174.54,291.81 C175.35,290.76 176.4,290.06 177.27,289.71 C178.15,289.36 178.95,289.36 179.79,289.71 C180.63,290.06 181.43,290.76 182.31,291.81 C183.18,292.86 184.06,294.26 185.04,296 C186.02,297.75 187.13,300.37 188.18,302.29 C189.23,304.22 190.28,305.96 191.33,307.54 C192.38,309.11 193.43,310.68 194.48,311.73 C195.53,312.78 196.58,313.3 197.63,313.83 C198.68,314.35 199.73,314.7 200.78,314.88 C201.82,315.05 202.87,315.15 203.92,314.88 C204.97,314.6 206.02,313.9 207.07,313.2 C208.12,312.5 209.17,311.38 210.22,310.68 C211.27,309.98 212.32,309.42 213.37,309 C214.42,308.58 215.47,308.3 216.52,308.17 C217.56,308.03 218.44,307.92 219.66,308.17 C220.89,308.41 222.46,308.93 223.86,309.63 C225.26,310.33 226.66,311.42 228.06,312.36 C229.46,313.3 230.86,314.25 232.25,315.29 C233.65,316.34 235.05,317.5 236.45,318.65 C237.85,319.8 239.95,321.62 240.65,322.21" fill="none" stroke="#FDE725" stroke-width="1.6" stroke-linejoin="round" stroke-linecap="butt" clip-path="url(#cc1)"/>
<rect x="163.13" y="232.4" width="81" height="114.8" fill="none" stroke="#333333" stroke-width="1.07"/>
<rect x="163.13" y="215.2" width="81" height="16.3" fill="#fff" stroke="#333333" stroke-width="1.07"/>
<text x="203.63" y="226.95" font-size="9" text-anchor="middle" fill="#111" font-weight="normal">CMC−Pitt</text>
<line x1="166.53" y1="347.2" x2="166.53" y2="351.6" stroke="#333333" stroke-width="1.25"/>
<text x="166.53" y="361.4" font-size="8.8" text-anchor="middle" fill="#4D4D4D" font-weight="normal">0</text>
<line x1="240.33" y1="347.2" x2="240.33" y2="351.6" stroke="#333333" stroke-width="1.25"/>
<text x="240.33" y="361.4" font-size="8.8" text-anchor="middle" fill="#4D4D4D" font-weight="normal">1</text>
<rect x="252.66" y="232.4" width="81" height="114.8" fill="#fff"/>
<line x1="252.66" y1="243.4" x2="333.66" y2="243.4" stroke="#EBEBEB" stroke-width="1.4"/>
<line x1="252.66" y1="263.3" x2="333.66" y2="263.3" stroke="#EBEBEB" stroke-width="1.4"/>
<line x1="252.66" y1="283.2" x2="333.66" y2="283.2" stroke="#EBEBEB" stroke-width="1.4"/>
<line x1="252.66" y1="303.1" x2="333.66" y2="303.1" stroke="#EBEBEB" stroke-width="1.4"/>
<line x1="252.66" y1="323" x2="333.66" y2="323" stroke="#EBEBEB" stroke-width="1.4"/>
<line x1="252.66" y1="342.9" x2="333.66" y2="342.9" stroke="#EBEBEB" stroke-width="1.4"/>
<line x1="256.06" y1="232.4" x2="256.06" y2="347.2" stroke="#EBEBEB" stroke-width="1.4"/>
<line x1="292.96" y1="232.4" x2="292.96" y2="347.2" stroke="#EBEBEB" stroke-width="0.75"/>
<line x1="329.86" y1="232.4" x2="329.86" y2="347.2" stroke="#EBEBEB" stroke-width="1.4"/>
<line x1="292.96" y1="347.2" x2="292.96" y2="232.4" stroke="#9A9A9A" stroke-width="1.45" stroke-dasharray="6.4 6.4"/>
<clipPath id="cc2"><rect x="252.66" y="232.4" width="81" height="114.8"/></clipPath>
<path d="M256.15,285.52 C256.32,283.42 256.78,276.78 257.2,272.94 C257.62,269.09 258.14,265.42 258.67,262.45 C259.19,259.48 259.72,256.86 260.35,255.11 C260.97,253.37 261.74,252.42 262.44,251.97 C263.14,251.51 263.84,251.86 264.54,252.39 C265.24,252.91 265.84,253.96 266.64,255.11 C267.45,256.27 268.42,257.74 269.37,259.31 C270.31,260.88 271.36,262.63 272.31,264.55 C273.25,266.47 274.13,268.39 275.04,270.84 C275.95,273.29 276.89,276.43 277.76,279.23 C278.64,282.02 279.44,284.82 280.28,287.62 C281.12,290.41 282.03,293.38 282.8,296 C283.57,298.62 284.2,301.07 284.9,303.34 C285.6,305.61 286.3,307.71 287,309.63 C287.7,311.55 288.29,313.13 289.1,314.88 C289.9,316.62 290.85,318.54 291.82,320.12 C292.8,321.69 293.92,323.02 294.97,324.31 C296.02,325.6 297.07,326.65 298.12,327.88 C299.17,329.1 300.22,330.57 301.27,331.65 C302.32,332.73 303.37,333.75 304.42,334.38 C305.47,335.01 306.52,335.25 307.56,335.42 C308.61,335.6 309.66,335.35 310.71,335.42 C311.76,335.49 312.81,335.49 313.86,335.84 C314.91,336.19 315.96,337 317.01,337.52 C318.06,338.05 318.93,338.67 320.16,338.99 C321.38,339.3 322.6,339.3 324.35,339.41 C326.1,339.51 329.6,339.58 330.65,339.62" fill="none" stroke="#21908C" stroke-width="1.6" stroke-linejoin="round" stroke-linecap="butt" clip-path="url(#cc2)"/>
<path d="M256.15,318.02 C256.39,316.97 257.09,314.35 257.62,311.73 C258.14,309.11 258.67,305.26 259.3,302.29 C259.93,299.32 260.63,296.18 261.39,293.91 C262.16,291.63 263.04,289.99 263.91,288.66 C264.79,287.34 265.66,286.53 266.64,285.94 C267.62,285.34 268.84,285.17 269.79,285.1 C270.73,285.03 271.43,285.1 272.31,285.52 C273.18,285.94 274.13,286.64 275.04,287.62 C275.95,288.59 276.89,290.17 277.76,291.39 C278.64,292.61 279.34,293.66 280.28,294.95 C281.23,296.25 282.38,297.58 283.43,299.15 C284.48,300.72 285.53,302.47 286.58,304.39 C287.63,306.31 288.68,308.76 289.73,310.68 C290.78,312.6 291.82,314.46 292.87,315.92 C293.92,317.39 294.97,318.54 296.02,319.49 C297.07,320.43 298.12,321.13 299.17,321.59 C300.22,322.04 301.27,322.35 302.32,322.21 C303.37,322.07 304.42,321.62 305.47,320.75 C306.52,319.87 307.56,318.23 308.61,316.97 C309.66,315.71 310.71,314.32 311.76,313.2 C312.81,312.08 313.86,311.03 314.91,310.26 C315.96,309.49 317.11,308.86 318.06,308.58 C319,308.3 319.7,308.3 320.58,308.58 C321.45,308.86 322.39,309.39 323.3,310.26 C324.21,311.14 325.16,312.53 326.03,313.83 C326.91,315.12 327.78,316.73 328.55,318.02 C329.32,319.31 330.3,320.99 330.65,321.59" fill="none" stroke="#FDE725" stroke-width="1.6" stroke-linejoin="round" stroke-linecap="butt" clip-path="url(#cc2)"/>
<rect x="252.66" y="232.4" width="81" height="114.8" fill="none" stroke="#333333" stroke-width="1.07"/>
<rect x="252.66" y="215.2" width="81" height="16.3" fill="#fff" stroke="#333333" stroke-width="1.07"/>
<text x="293.16" y="226.95" font-size="9" text-anchor="middle" fill="#111" font-weight="normal">GVEX−SMRI</text>
<line x1="256.06" y1="347.2" x2="256.06" y2="351.6" stroke="#333333" stroke-width="1.25"/>
<text x="256.06" y="361.4" font-size="8.8" text-anchor="middle" fill="#4D4D4D" font-weight="normal">0</text>
<line x1="329.86" y1="347.2" x2="329.86" y2="351.6" stroke="#333333" stroke-width="1.25"/>
<text x="329.86" y="361.4" font-size="8.8" text-anchor="middle" fill="#4D4D4D" font-weight="normal">1</text>
<rect x="342.19" y="232.4" width="81" height="114.8" fill="#fff"/>
<line x1="342.19" y1="243.4" x2="423.19" y2="243.4" stroke="#EBEBEB" stroke-width="1.4"/>
<line x1="342.19" y1="263.3" x2="423.19" y2="263.3" stroke="#EBEBEB" stroke-width="1.4"/>
<line x1="342.19" y1="283.2" x2="423.19" y2="283.2" stroke="#EBEBEB" stroke-width="1.4"/>
<line x1="342.19" y1="303.1" x2="423.19" y2="303.1" stroke="#EBEBEB" stroke-width="1.4"/>
<line x1="342.19" y1="323" x2="423.19" y2="323" stroke="#EBEBEB" stroke-width="1.4"/>
<line x1="342.19" y1="342.9" x2="423.19" y2="342.9" stroke="#EBEBEB" stroke-width="1.4"/>
<line x1="345.59" y1="232.4" x2="345.59" y2="347.2" stroke="#EBEBEB" stroke-width="1.4"/>
<line x1="382.49" y1="232.4" x2="382.49" y2="347.2" stroke="#EBEBEB" stroke-width="0.75"/>
<line x1="419.39" y1="232.4" x2="419.39" y2="347.2" stroke="#EBEBEB" stroke-width="1.4"/>
<line x1="382.49" y1="347.2" x2="382.49" y2="232.4" stroke="#9A9A9A" stroke-width="1.45" stroke-dasharray="6.4 6.4"/>
<clipPath id="cc3"><rect x="342.19" y="232.4" width="81" height="114.8"/></clipPath>
<path d="M345.57,270.84 C345.67,269.44 345.92,265.6 346.2,262.45 C346.48,259.31 346.9,255.11 347.25,251.97 C347.6,248.82 347.88,245.85 348.3,243.58 C348.72,241.31 349.24,239.46 349.76,238.34 C350.29,237.22 350.92,236.77 351.44,236.87 C351.97,236.98 352.39,237.68 352.91,238.97 C353.44,240.26 353.96,242.11 354.59,244.63 C355.22,247.15 355.99,250.57 356.69,254.07 C357.39,257.56 358.02,261.58 358.79,265.6 C359.56,269.62 360.43,274.16 361.31,278.18 C362.18,282.2 363.13,286.39 364.04,289.71 C364.95,293.03 365.82,295.65 366.76,298.1 C367.71,300.55 368.65,302.12 369.7,304.39 C370.75,306.66 372.01,309.46 373.06,311.73 C374.11,314 374.95,316.1 376,318.02 C377.05,319.94 378.2,321.86 379.36,323.26 C380.51,324.66 381.73,325.53 382.92,326.41 C384.11,327.28 385.27,328.05 386.49,328.5 C387.72,328.96 388.94,329.06 390.27,329.13 C391.6,329.2 393.14,329.03 394.47,328.92 C395.8,328.82 397.02,328.4 398.24,328.5 C399.47,328.61 400.69,328.96 401.81,329.55 C402.93,330.15 403.91,331.13 404.96,332.07 C406.01,333.01 407.06,334.24 408.11,335.21 C409.16,336.19 410.03,337.07 411.25,337.94 C412.48,338.81 414.05,339.83 415.45,340.46 C416.85,341.09 418.95,341.51 419.65,341.72" fill="none" stroke="#21908C" stroke-width="1.6" stroke-linejoin="round" stroke-linecap="butt" clip-path="url(#cc3)"/>
<path d="M345.57,314.88 C345.85,313.83 346.62,310.33 347.25,308.58 C347.88,306.84 348.47,305.54 349.35,304.39 C350.22,303.24 351.44,302.26 352.49,301.66 C353.54,301.07 354.59,300.79 355.64,300.83 C356.69,300.86 357.74,301.39 358.79,301.87 C359.84,302.36 360.71,303.17 361.94,303.76 C363.16,304.36 364.74,304.98 366.13,305.44 C367.53,305.89 368.93,306.14 370.33,306.49 C371.73,306.84 373.13,307.19 374.53,307.54 C375.93,307.89 377.33,308.34 378.73,308.58 C380.13,308.83 381.52,309.07 382.92,309 C384.32,308.93 385.72,308.58 387.12,308.17 C388.52,307.75 389.92,306.94 391.32,306.49 C392.72,306.03 394.12,305.68 395.52,305.44 C396.91,305.19 398.31,305.02 399.71,305.02 C401.11,305.02 402.51,305.19 403.91,305.44 C405.31,305.68 406.81,305.96 408.11,306.49 C409.4,307.01 410.63,307.71 411.67,308.58 C412.72,309.46 413.49,310.51 414.4,311.73 C415.31,312.95 416.26,314.35 417.13,315.92 C418.01,317.5 419.23,320.29 419.65,321.17" fill="none" stroke="#FDE725" stroke-width="1.6" stroke-linejoin="round" stroke-linecap="butt" clip-path="url(#cc3)"/>
<rect x="342.19" y="232.4" width="81" height="114.8" fill="none" stroke="#333333" stroke-width="1.07"/>
<rect x="342.19" y="215.2" width="81" height="16.3" fill="#fff" stroke="#333333" stroke-width="1.07"/>
<text x="382.69" y="226.95" font-size="9" text-anchor="middle" fill="#111" font-weight="normal">BipSeq−sACC</text>
<line x1="345.59" y1="347.2" x2="345.59" y2="351.6" stroke="#333333" stroke-width="1.25"/>
<text x="345.59" y="361.4" font-size="8.8" text-anchor="middle" fill="#4D4D4D" font-weight="normal">0</text>
<line x1="419.39" y1="347.2" x2="419.39" y2="351.6" stroke="#333333" stroke-width="1.25"/>
<text x="419.39" y="361.4" font-size="8.8" text-anchor="middle" fill="#4D4D4D" font-weight="normal">1</text>
<text x="62.5" y="289.8" font-size="10.4" text-anchor="middle" fill="#000" font-weight="normal" transform="rotate(-90 62.5 289.8)">Density</text>
<text x="248.4" y="375.5" font-size="10.5" text-anchor="middle" fill="#000" font-weight="normal">Predicted probabilities</text>
<rect x="73.6" y="404" width="81" height="115" fill="#fff"/>
<line x1="73.6" y1="418.9" x2="154.6" y2="418.9" stroke="#EBEBEB" stroke-width="1.4"/>
<line x1="73.6" y1="442.7" x2="154.6" y2="442.7" stroke="#EBEBEB" stroke-width="1.4"/>
<line x1="73.6" y1="466.7" x2="154.6" y2="466.7" stroke="#EBEBEB" stroke-width="1.4"/>
<line x1="73.6" y1="490.7" x2="154.6" y2="490.7" stroke="#EBEBEB" stroke-width="1.4"/>
<line x1="73.6" y1="514.5" x2="154.6" y2="514.5" stroke="#EBEBEB" stroke-width="1.4"/>
<line x1="77" y1="404" x2="77" y2="519" stroke="#EBEBEB" stroke-width="1.4"/>
<line x1="113.9" y1="404" x2="113.9" y2="519" stroke="#EBEBEB" stroke-width="0.75"/>
<line x1="150.8" y1="404" x2="150.8" y2="519" stroke="#EBEBEB" stroke-width="1.4"/>
<line x1="113.9" y1="519" x2="113.9" y2="404" stroke="#9A9A9A" stroke-width="1.45" stroke-dasharray="6.4 6.4"/>
<clipPath id="ce0"><rect x="73.6" y="404" width="81" height="115"/></clipPath>
<path d="M76.6,486.58 C76.77,484.82 77.27,479.89 77.65,476.01 C78.04,472.13 78.46,467.2 78.92,463.32 C79.38,459.45 79.8,456.1 80.4,452.75 C81,449.4 81.81,445.88 82.52,443.23 C83.22,440.59 83.82,438.48 84.63,436.89 C85.44,435.31 86.5,434.25 87.38,433.72 C88.26,433.19 88.97,433.44 89.92,433.72 C90.87,434 92.04,434.78 93.09,435.41 C94.15,436.05 95.21,436.75 96.27,437.53 C97.32,438.3 98.38,439.01 99.44,440.06 C100.5,441.12 101.55,442.53 102.61,443.87 C103.67,445.21 104.73,446.62 105.78,448.1 C106.84,449.58 107.9,451.2 108.96,452.75 C110.01,454.3 111.07,455.92 112.13,457.4 C113.19,458.88 114.24,460.36 115.3,461.63 C116.36,462.9 117.49,463.85 118.47,465.02 C119.46,466.18 120.34,467.13 121.22,468.61 C122.1,470.09 122.92,471.96 123.76,473.9 C124.61,475.84 125.42,478.13 126.3,480.24 C127.18,482.36 128.06,484.54 129.05,486.58 C130.04,488.63 131.16,490.57 132.22,492.51 C133.28,494.44 134.34,496.45 135.39,498.21 C136.45,499.98 137.51,501.67 138.57,503.08 C139.62,504.49 140.68,505.72 141.74,506.67 C142.8,507.62 143.85,508.15 144.91,508.79 C145.97,509.42 147.03,509.95 148.08,510.48 C149.14,511.01 150.73,511.71 151.26,511.96" fill="none" stroke="#21908C" stroke-width="1.6" stroke-linejoin="round" stroke-linecap="butt" clip-path="url(#ce0)"/>
<path d="M76.6,489.76 C76.88,488.17 77.65,483.59 78.29,480.24 C78.92,476.89 79.7,473.02 80.4,469.67 C81.11,466.32 81.71,463.15 82.52,460.15 C83.33,457.16 84.32,453.98 85.27,451.69 C86.22,449.4 87.28,447.64 88.23,446.41 C89.18,445.17 89.99,444.64 90.98,444.29 C91.97,443.94 93.09,443.94 94.15,444.29 C95.21,444.64 96.27,445.63 97.32,446.41 C98.38,447.18 99.44,447.96 100.5,448.94 C101.55,449.93 102.61,451.27 103.67,452.33 C104.73,453.39 105.78,454.23 106.84,455.29 C107.9,456.35 108.96,457.51 110.01,458.67 C111.07,459.83 112.13,461.07 113.19,462.27 C114.24,463.46 115.3,464.56 116.36,465.86 C117.42,467.17 118.47,468.75 119.53,470.09 C120.59,471.43 121.65,472.63 122.7,473.9 C123.76,475.17 124.82,476.58 125.88,477.7 C126.93,478.83 127.99,479.71 129.05,480.66 C130.11,481.62 130.99,482.43 132.22,483.41 C133.46,484.4 135.04,485.42 136.45,486.58 C137.86,487.75 139.27,489.26 140.68,490.39 C142.09,491.52 143.68,492.29 144.91,493.35 C146.15,494.41 147.03,495.47 148.08,496.73 C149.14,498 150.73,500.26 151.26,500.96" fill="none" stroke="#FDE725" stroke-width="1.6" stroke-linejoin="round" stroke-linecap="butt" clip-path="url(#ce0)"/>
<rect x="73.6" y="404" width="81" height="115" fill="none" stroke="#333333" stroke-width="1.07"/>
<rect x="73.6" y="387" width="81" height="16.1" fill="#fff" stroke="#333333" stroke-width="1.07"/>
<text x="114.1" y="398.65" font-size="9" text-anchor="middle" fill="#111" font-weight="normal">CMC−HBCC</text>
<line x1="77" y1="519" x2="77" y2="523.4" stroke="#333333" stroke-width="1.25"/>
<text x="77" y="533.6" font-size="8.8" text-anchor="middle" fill="#4D4D4D" font-weight="normal">0</text>
<line x1="150.8" y1="519" x2="150.8" y2="523.4" stroke="#333333" stroke-width="1.25"/>
<text x="150.8" y="533.6" font-size="8.8" text-anchor="middle" fill="#4D4D4D" font-weight="normal">1</text>
<rect x="163.13" y="404" width="81" height="115" fill="#fff"/>
<line x1="163.13" y1="418.9" x2="244.13" y2="418.9" stroke="#EBEBEB" stroke-width="1.4"/>
<line x1="163.13" y1="442.7" x2="244.13" y2="442.7" stroke="#EBEBEB" stroke-width="1.4"/>
<line x1="163.13" y1="466.7" x2="244.13" y2="466.7" stroke="#EBEBEB" stroke-width="1.4"/>
<line x1="163.13" y1="490.7" x2="244.13" y2="490.7" stroke="#EBEBEB" stroke-width="1.4"/>
<line x1="163.13" y1="514.5" x2="244.13" y2="514.5" stroke="#EBEBEB" stroke-width="1.4"/>
<line x1="166.53" y1="404" x2="166.53" y2="519" stroke="#EBEBEB" stroke-width="1.4"/>
<line x1="203.43" y1="404" x2="203.43" y2="519" stroke="#EBEBEB" stroke-width="0.75"/>
<line x1="240.33" y1="404" x2="240.33" y2="519" stroke="#EBEBEB" stroke-width="1.4"/>
<line x1="203.43" y1="519" x2="203.43" y2="404" stroke="#9A9A9A" stroke-width="1.45" stroke-dasharray="6.4 6.4"/>
<clipPath id="ce1"><rect x="163.13" y="404" width="81" height="115"/></clipPath>
<path d="M166.17,485.53 C166.35,483.94 166.77,479.71 167.23,476.01 C167.69,472.31 168.29,467.55 168.92,463.32 C169.56,459.09 170.26,454.69 171.04,450.64 C171.81,446.58 172.73,442.35 173.58,439.01 C174.42,435.66 175.23,432.84 176.11,430.55 C176.99,428.26 177.88,426.6 178.86,425.26 C179.85,423.92 181.08,423.04 182.04,422.51 C182.99,421.98 183.8,421.98 184.57,422.09 C185.35,422.19 185.98,422.44 186.69,423.15 C187.39,423.85 188.1,424.73 188.8,426.32 C189.51,427.9 190.21,430.19 190.92,432.66 C191.62,435.13 192.33,438.12 193.03,441.12 C193.74,444.12 194.44,447.64 195.15,450.64 C195.85,453.63 196.56,456.63 197.26,459.09 C197.97,461.56 198.57,463.39 199.38,465.44 C200.19,467.48 201.14,469.6 202.13,471.36 C203.12,473.12 204.24,474.6 205.3,476.01 C206.36,477.42 207.42,478.58 208.47,479.82 C209.53,481.05 210.48,482.39 211.65,483.41 C212.81,484.43 214.33,485.25 215.45,485.95 C216.58,486.65 217.46,487.01 218.41,487.64 C219.37,488.28 220.18,488.8 221.16,489.76 C222.15,490.71 223.28,492.12 224.34,493.35 C225.39,494.58 226.45,495.99 227.51,497.16 C228.57,498.32 229.45,499.2 230.68,500.33 C231.92,501.46 233.68,502.87 234.91,503.92 C236.15,504.98 237.1,505.69 238.08,506.67 C239.07,507.66 240.38,509.32 240.83,509.85" fill="none" stroke="#21908C" stroke-width="1.6" stroke-linejoin="round" stroke-linecap="butt" clip-path="url(#ce1)"/>
<path d="M166.17,496.73 C166.42,495.75 167.05,493.39 167.65,490.81 C168.25,488.24 169.06,484.47 169.77,481.3 C170.47,478.13 171.07,474.95 171.88,471.78 C172.69,468.61 173.72,465.09 174.63,462.27 C175.55,459.45 176.43,456.87 177.38,454.87 C178.33,452.86 179.29,451.45 180.34,450.21 C181.4,448.98 182.56,448.1 183.73,447.46 C184.89,446.83 186.27,446.41 187.32,446.41 C188.38,446.41 189.12,446.83 190.07,447.46 C191.02,448.1 192.08,449.05 193.03,450.21 C193.99,451.38 194.87,453.03 195.78,454.44 C196.7,455.85 197.65,457.37 198.53,458.67 C199.41,459.98 200.23,461.21 201.07,462.27 C201.92,463.32 202.73,464.42 203.61,465.02 C204.49,465.61 205.37,465.97 206.36,465.86 C207.35,465.76 208.47,464.98 209.53,464.38 C210.59,463.78 211.65,462.8 212.7,462.27 C213.76,461.74 214.92,461.28 215.88,461.21 C216.83,461.14 217.64,461.31 218.41,461.84 C219.19,462.37 219.82,463.08 220.53,464.38 C221.23,465.69 221.94,467.73 222.64,469.67 C223.35,471.61 223.95,473.72 224.76,476.01 C225.57,478.3 226.59,480.95 227.51,483.41 C228.43,485.88 229.27,488.52 230.26,490.81 C231.25,493.1 232.3,495.22 233.43,497.16 C234.56,499.1 235.79,500.96 237.03,502.44 C238.26,503.92 240.2,505.44 240.83,506.04" fill="none" stroke="#FDE725" stroke-width="1.6" stroke-linejoin="round" stroke-linecap="butt" clip-path="url(#ce1)"/>
<rect x="163.13" y="404" width="81" height="115" fill="none" stroke="#333333" stroke-width="1.07"/>
<rect x="163.13" y="387" width="81" height="16.1" fill="#fff" stroke="#333333" stroke-width="1.07"/>
<text x="203.63" y="398.65" font-size="9" text-anchor="middle" fill="#111" font-weight="normal">CMC−Pitt</text>
<line x1="166.53" y1="519" x2="166.53" y2="523.4" stroke="#333333" stroke-width="1.25"/>
<text x="166.53" y="533.6" font-size="8.8" text-anchor="middle" fill="#4D4D4D" font-weight="normal">0</text>
<line x1="240.33" y1="519" x2="240.33" y2="523.4" stroke="#333333" stroke-width="1.25"/>
<text x="240.33" y="533.6" font-size="8.8" text-anchor="middle" fill="#4D4D4D" font-weight="normal">1</text>
<rect x="252.66" y="404" width="81" height="115" fill="#fff"/>
<line x1="252.66" y1="418.9" x2="333.66" y2="418.9" stroke="#EBEBEB" stroke-width="1.4"/>
<line x1="252.66" y1="442.7" x2="333.66" y2="442.7" stroke="#EBEBEB" stroke-width="1.4"/>
<line x1="252.66" y1="466.7" x2="333.66" y2="466.7" stroke="#EBEBEB" stroke-width="1.4"/>
<line x1="252.66" y1="490.7" x2="333.66" y2="490.7" stroke="#EBEBEB" stroke-width="1.4"/>
<line x1="252.66" y1="514.5" x2="333.66" y2="514.5" stroke="#EBEBEB" stroke-width="1.4"/>
<line x1="256.06" y1="404" x2="256.06" y2="519" stroke="#EBEBEB" stroke-width="1.4"/>
<line x1="292.96" y1="404" x2="292.96" y2="519" stroke="#EBEBEB" stroke-width="0.75"/>
<line x1="329.86" y1="404" x2="329.86" y2="519" stroke="#EBEBEB" stroke-width="1.4"/>
<line x1="292.96" y1="519" x2="292.96" y2="404" stroke="#9A9A9A" stroke-width="1.45" stroke-dasharray="6.4 6.4"/>
<clipPath id="ce2"><rect x="252.66" y="404" width="81" height="115"/></clipPath>
<path d="M256.17,484.47 C256.35,482.71 256.81,478.13 257.23,473.9 C257.65,469.67 258.18,464.03 258.71,459.09 C259.24,454.16 259.77,449.23 260.4,444.29 C261.04,439.36 261.81,433.9 262.52,429.49 C263.22,425.08 263.93,420.96 264.63,417.86 C265.34,414.76 266.04,412.4 266.75,410.88 C267.45,409.37 268.16,408.66 268.86,408.77 C269.57,408.87 270.27,410 270.98,411.52 C271.68,413.03 272.39,415.92 273.09,417.86 C273.8,419.8 274.4,421.84 275.21,423.15 C276.02,424.45 277.08,425.05 277.96,425.68 C278.84,426.32 279.65,426.32 280.5,426.95 C281.34,427.59 282.26,428.19 283.03,429.49 C283.81,430.79 284.44,432.66 285.15,434.78 C285.85,436.89 286.56,439.53 287.26,442.18 C287.97,444.82 288.74,447.82 289.38,450.64 C290.01,453.46 290.51,456.28 291.07,459.09 C291.64,461.91 292.23,464.91 292.76,467.55 C293.29,470.2 293.75,472.49 294.24,474.95 C294.74,477.42 295.12,479.89 295.72,482.36 C296.32,484.82 297.03,487.64 297.84,489.76 C298.65,491.87 299.6,493.53 300.59,495.04 C301.58,496.56 302.6,497.62 303.76,498.85 C304.92,500.08 306.33,501.39 307.57,502.44 C308.8,503.5 309.86,504.38 311.16,505.19 C312.47,506 313.98,506.6 315.39,507.31 C316.8,508.01 318.21,508.72 319.62,509.42 C321.03,510.13 322.44,510.94 323.85,511.54 C325.26,512.14 326.92,512.66 328.08,513.02 C329.25,513.37 330.38,513.55 330.83,513.65" fill="none" stroke="#21908C" stroke-width="1.6" stroke-linejoin="round" stroke-linecap="butt" clip-path="url(#ce2)"/>
<path d="M256.17,477.07 C256.42,475.13 257.05,469.49 257.65,465.44 C258.25,461.39 259.06,456.63 259.77,452.75 C260.47,448.87 261.18,444.93 261.88,442.18 C262.59,439.43 263.29,437.67 264,436.26 C264.7,434.85 265.48,434.14 266.11,433.72 C266.75,433.3 267.17,433.19 267.81,433.72 C268.44,434.25 269.22,435.66 269.92,436.89 C270.63,438.12 271.33,439.89 272.04,441.12 C272.74,442.35 273.38,443.41 274.15,444.29 C274.93,445.17 275.81,445.77 276.69,446.41 C277.57,447.04 278.52,447.46 279.44,448.1 C280.35,448.73 281.31,449.37 282.19,450.21 C283.07,451.06 283.88,452.12 284.73,453.17 C285.57,454.23 286.38,455.39 287.26,456.56 C288.15,457.72 289.03,458.85 290.01,460.15 C291,461.46 292.13,462.97 293.19,464.38 C294.24,465.79 295.3,467.09 296.36,468.61 C297.42,470.13 298.47,471.89 299.53,473.47 C300.59,475.06 301.65,476.72 302.7,478.13 C303.76,479.54 304.82,480.7 305.88,481.93 C306.93,483.17 307.99,484.33 309.05,485.53 C310.11,486.73 311.16,487.89 312.22,489.12 C313.28,490.36 314.51,491.66 315.39,492.93 C316.28,494.2 316.7,495.32 317.51,496.73 C318.32,498.14 319.38,499.91 320.26,501.39 C321.14,502.87 321.85,504.21 322.8,505.62 C323.75,507.03 324.91,508.61 325.97,509.85 C327.03,511.08 328.33,512.38 329.14,513.02 C329.95,513.65 330.55,513.55 330.83,513.65" fill="none" stroke="#FDE725" stroke-width="1.6" stroke-linejoin="round" stroke-linecap="butt" clip-path="url(#ce2)"/>
<rect x="252.66" y="404" width="81" height="115" fill="none" stroke="#333333" stroke-width="1.07"/>
<rect x="252.66" y="387" width="81" height="16.1" fill="#fff" stroke="#333333" stroke-width="1.07"/>
<text x="293.16" y="398.65" font-size="9" text-anchor="middle" fill="#111" font-weight="normal">GVEX−SMRI</text>
<line x1="256.06" y1="519" x2="256.06" y2="523.4" stroke="#333333" stroke-width="1.25"/>
<text x="256.06" y="533.6" font-size="8.8" text-anchor="middle" fill="#4D4D4D" font-weight="normal">0</text>
<line x1="329.86" y1="519" x2="329.86" y2="523.4" stroke="#333333" stroke-width="1.25"/>
<text x="329.86" y="533.6" font-size="8.8" text-anchor="middle" fill="#4D4D4D" font-weight="normal">1</text>
<rect x="342.19" y="404" width="81" height="115" fill="#fff"/>
<line x1="342.19" y1="418.9" x2="423.19" y2="418.9" stroke="#EBEBEB" stroke-width="1.4"/>
<line x1="342.19" y1="442.7" x2="423.19" y2="442.7" stroke="#EBEBEB" stroke-width="1.4"/>
<line x1="342.19" y1="466.7" x2="423.19" y2="466.7" stroke="#EBEBEB" stroke-width="1.4"/>
<line x1="342.19" y1="490.7" x2="423.19" y2="490.7" stroke="#EBEBEB" stroke-width="1.4"/>
<line x1="342.19" y1="514.5" x2="423.19" y2="514.5" stroke="#EBEBEB" stroke-width="1.4"/>
<line x1="345.59" y1="404" x2="345.59" y2="519" stroke="#EBEBEB" stroke-width="1.4"/>
<line x1="382.49" y1="404" x2="382.49" y2="519" stroke="#EBEBEB" stroke-width="0.75"/>
<line x1="419.39" y1="404" x2="419.39" y2="519" stroke="#EBEBEB" stroke-width="1.4"/>
<line x1="382.49" y1="519" x2="382.49" y2="404" stroke="#9A9A9A" stroke-width="1.45" stroke-dasharray="6.4 6.4"/>
<clipPath id="ce3"><rect x="342.19" y="404" width="81" height="115"/></clipPath>
<path d="M345.6,453.81 C345.77,452.75 346.19,449.68 346.65,447.46 C347.11,445.24 347.71,442.42 348.35,440.49 C348.98,438.55 349.68,436.86 350.46,435.83 C351.24,434.81 352.22,434.35 353,434.35 C353.77,434.35 354.41,434.95 355.11,435.83 C355.82,436.71 356.42,438.05 357.23,439.64 C358.04,441.23 358.99,443.34 359.98,445.35 C360.97,447.36 362.09,449.68 363.15,451.69 C364.21,453.7 365.27,455.64 366.32,457.4 C367.38,459.17 368.33,460.57 369.5,462.27 C370.66,463.96 372.07,465.97 373.3,467.55 C374.54,469.14 375.7,470.37 376.9,471.78 C378.1,473.19 379.26,474.6 380.49,476.01 C381.73,477.42 383.03,478.76 384.3,480.24 C385.57,481.72 386.87,483.48 388.11,484.89 C389.34,486.3 390.58,487.71 391.7,488.7 C392.83,489.69 393.82,490.39 394.88,490.81 C395.93,491.24 396.99,491.41 398.05,491.24 C399.11,491.06 400.16,490.36 401.22,489.76 C402.28,489.16 403.34,487.99 404.39,487.64 C405.45,487.29 406.62,487.29 407.57,487.64 C408.52,487.99 409.22,488.7 410.1,489.76 C410.99,490.81 411.87,492.47 412.85,493.99 C413.84,495.5 414.86,497.09 416.03,498.85 C417.19,500.61 419.2,503.61 419.83,504.56" fill="none" stroke="#21908C" stroke-width="1.6" stroke-linejoin="round" stroke-linecap="butt" clip-path="url(#ce3)"/>
<path d="M345.6,472.84 C345.77,471.96 346.19,469.32 346.65,467.55 C347.11,465.79 347.71,463.75 348.35,462.27 C348.98,460.79 349.68,459.48 350.46,458.67 C351.24,457.86 352.22,457.4 353,457.4 C353.77,457.4 354.3,457.86 355.11,458.67 C355.92,459.48 356.88,461.07 357.86,462.27 C358.85,463.46 359.98,464.87 361.04,465.86 C362.09,466.85 363.15,467.62 364.21,468.19 C365.27,468.75 366.32,469.07 367.38,469.24 C368.44,469.42 369.5,469.35 370.55,469.24 C371.61,469.14 372.67,468.82 373.73,468.61 C374.78,468.4 375.84,468.15 376.9,467.98 C377.96,467.8 379.01,467.62 380.07,467.55 C381.13,467.48 382.19,467.38 383.24,467.55 C384.3,467.73 385.36,468.08 386.42,468.61 C387.47,469.14 388.53,469.91 389.59,470.72 C390.65,471.54 391.6,472.59 392.76,473.47 C393.92,474.35 395.33,475.41 396.57,476.01 C397.8,476.61 398.97,476.72 400.16,477.07 C401.36,477.42 402.6,477.67 403.76,478.13 C404.92,478.58 406.09,478.94 407.14,479.82 C408.2,480.7 409.15,482.11 410.1,483.41 C411.06,484.72 411.87,486.23 412.85,487.64 C413.84,489.05 414.86,490.36 416.03,491.87 C417.19,493.39 419.2,495.92 419.83,496.73" fill="none" stroke="#FDE725" stroke-width="1.6" stroke-linejoin="round" stroke-linecap="butt" clip-path="url(#ce3)"/>
<rect x="342.19" y="404" width="81" height="115" fill="none" stroke="#333333" stroke-width="1.07"/>
<rect x="342.19" y="387" width="81" height="16.1" fill="#fff" stroke="#333333" stroke-width="1.07"/>
<text x="382.69" y="398.65" font-size="9" text-anchor="middle" fill="#111" font-weight="normal">BipSeq−sACC</text>
<line x1="345.59" y1="519" x2="345.59" y2="523.4" stroke="#333333" stroke-width="1.25"/>
<text x="345.59" y="533.6" font-size="8.8" text-anchor="middle" fill="#4D4D4D" font-weight="normal">0</text>
<line x1="419.39" y1="519" x2="419.39" y2="523.4" stroke="#333333" stroke-width="1.25"/>
<text x="419.39" y="533.6" font-size="8.8" text-anchor="middle" fill="#4D4D4D" font-weight="normal">1</text>
<text x="62.5" y="461.5" font-size="10.4" text-anchor="middle" fill="#000" font-weight="normal" transform="rotate(-90 62.5 461.5)">Density</text>
<text x="248.4" y="547.6" font-size="10.5" text-anchor="middle" fill="#000" font-weight="normal">Predicted probabilities</text>
<rect x="511.8" y="23.8" width="122.9" height="131.2" fill="#fff"/>
<line x1="511.8" y1="149.7" x2="634.7" y2="149.7" stroke="#EBEBEB" stroke-width="1.4"/>
<line x1="628.8" y1="23.8" x2="628.8" y2="155" stroke="#EBEBEB" stroke-width="1.4"/>
<line x1="511.8" y1="134.67" x2="634.7" y2="134.67" stroke="#EBEBEB" stroke-width="0.75"/>
<line x1="614.81" y1="23.8" x2="614.81" y2="155" stroke="#EBEBEB" stroke-width="0.75"/>
<line x1="511.8" y1="119.65" x2="634.7" y2="119.65" stroke="#EBEBEB" stroke-width="1.4"/>
<line x1="600.82" y1="23.8" x2="600.82" y2="155" stroke="#EBEBEB" stroke-width="1.4"/>
<line x1="511.8" y1="104.62" x2="634.7" y2="104.62" stroke="#EBEBEB" stroke-width="0.75"/>
<line x1="586.84" y1="23.8" x2="586.84" y2="155" stroke="#EBEBEB" stroke-width="0.75"/>
<line x1="511.8" y1="89.6" x2="634.7" y2="89.6" stroke="#EBEBEB" stroke-width="1.4"/>
<line x1="572.85" y1="23.8" x2="572.85" y2="155" stroke="#EBEBEB" stroke-width="1.4"/>
<line x1="511.8" y1="74.57" x2="634.7" y2="74.57" stroke="#EBEBEB" stroke-width="0.75"/>
<line x1="558.86" y1="23.8" x2="558.86" y2="155" stroke="#EBEBEB" stroke-width="0.75"/>
<line x1="511.8" y1="59.55" x2="634.7" y2="59.55" stroke="#EBEBEB" stroke-width="1.4"/>
<line x1="544.88" y1="23.8" x2="544.88" y2="155" stroke="#EBEBEB" stroke-width="1.4"/>
<line x1="511.8" y1="44.53" x2="634.7" y2="44.53" stroke="#EBEBEB" stroke-width="0.75"/>
<line x1="530.89" y1="23.8" x2="530.89" y2="155" stroke="#EBEBEB" stroke-width="0.75"/>
<line x1="511.8" y1="29.5" x2="634.7" y2="29.5" stroke="#EBEBEB" stroke-width="1.4"/>
<line x1="516.9" y1="23.8" x2="516.9" y2="155" stroke="#EBEBEB" stroke-width="1.4"/>
<line x1="516.9" y1="149.7" x2="628.8" y2="29.5" stroke="#BDBDBD" stroke-width="1.35" stroke-dasharray="6.6 6.2"/>
<clipPath id="rocb"><rect x="511.8" y="23.8" width="122.9" height="131.2"/></clipPath>
<path d="M516.9,149.7 L517.13,149.39 L517.13,146.6 L518.53,146.6 L518.53,143.8 L520.39,143.8 L520.39,140.07 L521.79,140.07 L521.79,137.28 L523.19,137.28 L523.19,133.55 L524.59,133.55 L524.59,130.75 L525.99,130.75 L525.99,127.03 L527.38,127.03 L527.38,124.23 L528.78,124.23 L528.78,121.44 L529.72,121.44 L529.72,118.64 L530.65,118.64 L530.65,116.78 L531.58,116.78 L531.58,113.98 L532.51,113.98 L532.51,111.18 L533.91,111.18 L533.91,108.39 L534.84,108.39 L534.84,105.59 L536.24,105.59 L536.24,102.8 L537.64,102.8 L538.02,99.2 L538.02,96.19 L539.53,96.19 L539.53,94.18 L540.03,94.18 L540.03,92.18 L540.53,92.18 L540.53,90.17 L541.29,90.17 L541.29,88.16 L542.04,88.16 L542.04,85.15 L544.05,85.15 L544.05,82.64 L546.06,82.64 L546.06,80.13 L548.06,80.13 L548.06,78.12 L549.57,78.12 L549.57,76.61 L551.08,76.61 L551.08,75.11 L552.08,75.11 L552.08,73.1 L553.59,73.1 L553.59,71.09 L555.09,71.09 L555.09,68.58 L556.6,68.58 L556.6,66.57 L558.1,66.57 L558.1,65.57 L559.61,65.57 L559.61,64.06 L561.12,64.06 L561.12,62.06 L562.62,62.06 L562.62,61.05 L564.13,61.05 L564.13,60.05 L566.14,60.05 L566.14,57.54 L567.14,57.54 L569.15,57.04 L569.15,56.03 L571.16,56.03 L571.16,55.03 L572.16,55.03 L575.17,54.53 L575.17,53.6 L577.32,53.6 L577.32,52.67 L579.48,52.67 L579.48,50.88 L581.27,50.88 L581.27,49.54 L582.16,49.54 L582.16,48.19 L583.5,48.19 L583.5,47.3 L584.85,47.3 L584.85,45.95 L586.64,45.95 L586.64,44.61 L587.98,44.61 L587.98,42.82 L589.32,42.82 L589.32,41.03 L591.11,41.03 L592.91,40.58 L595.59,40.13 L598.28,39.68 L600.96,39.23 L604.54,38.78 L604.54,37.44 L608.12,37.44 L608.12,35.65 L609.02,35.65 L610.81,35.2 L610.81,34.3 L612.6,34.3 L612.6,32.96 L614.39,32.96 L614.39,32.06 L616.18,32.06 L616.18,31.17 L617.97,31.17 L617.97,29.82 L620.66,29.82 L620.66,28.93 L624.24,28.93 L628.72,28.48" fill="none" stroke="#B5B1DD" stroke-width="1.15" stroke-linejoin="miter" clip-path="url(#rocb)"/>
<path d="M516.66,149.39 L517.13,143.8 L517.13,134.48 L518.99,134.48 L521.32,134.48 L521.32,130.75 L522.26,130.75 L522.26,127.03 L523.19,127.03 L523.19,123.3 L524.12,123.3 L524.12,120.5 L525.05,120.5 L525.05,118.64 L525.99,118.64 L525.99,117.71 L527.38,117.71 L528.78,117.24 L528.78,116.31 L529.72,116.31 L530.18,113.05 L530.65,109.32 L530.65,106.52 L531.58,106.52 L531.58,103.73 L532.98,103.73 L532.98,100.93 L533.91,100.93 L533.91,98.35 L535.45,98.35 L535.45,95.76 L536.99,95.76 L536.99,93.18 L538.53,93.18 L538.53,91.17 L540.53,91.17 L540.53,89.16 L542.04,89.16 L542.04,87.16 L543.04,87.16 L543.04,85.65 L544.55,85.65 L544.55,83.14 L547.06,83.14 L547.06,81.63 L548.57,81.63 L548.57,80.13 L550.07,80.13 L550.07,78.62 L552.08,78.62 L554.09,78.62 L556.1,78.12 L558.1,78.12 L561.12,78.12 L561.12,77.12 L562.12,77.12 L562.12,75.61 L563.12,75.61 L563.12,73.1 L564.13,73.1 L564.13,71.59 L565.13,71.59 L565.13,69.59 L566.64,69.59 L566.64,67.08 L567.64,67.08 L567.64,65.57 L569.65,65.57 L569.65,64.06 L571.66,64.06 L571.66,62.06 L573.67,62.06 L573.67,61.05 L575.17,61.05 L577.69,60.74 L577.69,59.39 L579.48,59.39 L579.48,58.5 L581.27,58.5 L581.27,56.71 L582.16,56.71 L583.95,56.26 L583.95,55.36 L586.64,55.36 L589.32,54.91 L589.32,54.02 L592.91,54.02 L595.59,53.57 L595.59,51.78 L596.93,51.78 L596.93,50.88 L600.07,50.88 L600.07,49.99 L602.75,49.99 L602.75,47.3 L603.65,47.3 L606.33,46.85 L606.33,45.95 L608.12,45.95 L608.57,41.92 L608.57,39.23 L609.47,39.23 L609.47,37.44 L610.36,37.44 L610.36,36.54 L612.6,36.54 L612.6,35.65 L615.29,35.65 L615.29,33.86 L617.08,33.86 L617.08,32.06 L618.87,32.06 L618.87,31.17 L621.55,31.17 L621.55,30.27 L625.13,30.27 L625.13,29.38 L627.82,29.38 L628.8,29.38" fill="none" stroke="#EEA674" stroke-width="1.15" stroke-linejoin="miter" clip-path="url(#rocb)"/>
<path d="M516.9,149.7 L517.59,149.7 L522.26,149.7 L522.26,147.53 L522.26,143.8 L522.26,140.07 L523.19,140.07 L523.19,137.74 L523.89,137.74 L523.89,135.41 L524.59,135.41 L524.59,133.08 L525.05,133.08 L525.05,130.75 L525.52,130.75 L525.52,127.96 L526.92,127.96 L526.92,127.03 L528.32,127.03 L528.32,125.16 L530.18,125.16 L530.65,122.83 L534.38,122.37 L534.38,119.75 L535.9,119.75 L535.9,117.13 L537.43,117.13 L537.43,114.51 L538.95,114.51 L538.95,111.89 L540.48,111.89 L540.48,109.26 L542,109.26 L542,106.64 L543.53,106.64 L543.53,104.02 L545.05,104.02 L545.05,95.19 L547.56,94.69 L550.57,94.69 L550.57,90.17 L550.57,85.15 L550.57,84.14 L552.08,84.14 L556.6,84.14 L556.6,80.13 L557.1,78.12 L557.1,77.12 L559.11,77.12 L559.11,74.1 L561.12,74.1 L561.12,72.1 L561.62,72.1 L561.62,70.09 L562.12,70.09 L562.62,66.07 L562.62,64.06 L564.13,64.06 L566.64,63.56 L568.65,63.06 L568.65,61.05 L570.15,61.05 L570.15,60.05 L571.66,60.05 L573.16,59.55 L574.67,59.04 L574.67,58.04 L576.18,58.04 L576.68,53.02 L577.69,53.02 L580.37,53.02 L583.95,53.02 L589.32,53.02 L596.49,53.02 L605.44,53.02 L605.89,50.43 L605.89,48.19 L606.78,48.19 L606.78,46.85 L608.57,46.85 L610.36,46.4 L610.81,44.61 L610.81,43.27 L611.71,43.27 L611.71,41.47 L612.6,41.47 L614.39,41.03 L614.39,39.23 L615.29,39.23 L617.08,38.78 L619.76,38.34 L619.76,36.54 L620.66,36.54 L620.66,35.65 L622.45,35.65 L622.45,34.75 L623.79,34.75 L624.24,32.51 L625.13,32.06 L625.13,30.72 L626.48,30.72 L626.48,29.38 L627.82,29.38 L628.8,29.38" fill="none" stroke="#80CBB3" stroke-width="1.15" stroke-linejoin="miter" clip-path="url(#rocb)"/>
<path d="M516.9,149.7 L517.13,149.39 L517.13,145.67 L518.99,145.67 L519.46,143.8 L519.93,141.01 L519.93,135.41 L521.32,134.95 L521.32,132.85 L522.16,132.85 L522.16,130.75 L523,130.75 L523.19,127.96 L523.19,125.63 L524.59,125.63 L524.59,123.3 L525.52,123.3 L525.99,120.5 L525.99,117.71 L527.38,117.71 L529.25,117.24 L529.25,115.84 L530.18,115.84 L530.65,113.05 L530.65,110.25 L531.58,110.25 L532.05,107.46 L532.05,105.59 L532.98,105.59 L532.98,102.8 L533.91,102.8 L534.38,100 L534.38,97.09 L536.2,97.09 L536.2,94.18 L538.02,94.18 L538.02,92.18 L540.03,92.18 L540.03,90.17 L541.54,90.17 L542.04,88.16 L542.04,86.65 L544.05,86.65 L544.05,85.15 L546.06,85.15 L546.06,82.14 L547.06,82.14 L547.06,81.13 L549.07,81.13 L549.07,80.13 L551.08,80.13 L551.08,78.62 L552.08,78.62 L554.09,78.12 L554.09,77.12 L556.1,77.12 L558.1,77.12 L558.1,75.61 L559.61,75.61 L562.12,75.11 L562.12,74.1 L563.12,74.1 L563.12,73.1 L565.13,73.1 L565.13,72.1 L567.14,72.1 L567.14,70.59 L568.14,70.59 L568.14,68.08 L569.15,68.08 L569.15,67.08 L570.15,67.08 L570.15,65.57 L572.16,65.57 L572.16,64.06 L574.17,64.06 L574.17,62.06 L575.67,62.06 L575.67,60.55 L576.68,60.55 L576.68,58.05 L578.58,58.05 L578.58,56.26 L580.37,56.26 L580.37,54.91 L582.16,54.91 L582.16,53.57 L583.95,53.57 L583.95,50.88 L584.85,50.88 L584.85,49.54 L586.64,49.54 L586.64,48.19 L588.43,48.19 L590.22,47.75 L590.22,46.4 L592.01,46.4 L593.8,45.95 L593.8,44.16 L595.14,44.16 L595.14,43.27 L596.04,43.27 L598.28,42.82 L600.96,42.37 L600.96,40.58 L601.86,40.58 L601.86,39.68 L602.75,39.68 L605.44,39.68 L609.02,39.23 L612.6,39.23 L615.29,39.23 L615.73,36.99 L615.73,34.75 L617.08,34.75 L617.08,32.96 L617.97,32.96 L617.97,31.17 L618.87,31.17 L618.87,30.27 L621.55,30.27 L621.55,29.38 L625.13,29.38 L628.72,28.93" fill="none" stroke="#000000" stroke-width="1.15" stroke-linejoin="miter" clip-path="url(#rocb)"/>
<rect x="563.5" y="109.5" width="62.5" height="38" fill="#fff"/>
<line x1="566" y1="117.1" x2="573.1" y2="117.1" stroke="#000000" stroke-width="1.6"/>
<text x="578.5" y="119.35" font-size="7.35" text-anchor="start" fill="#000" font-weight="normal">CMC−HBCC</text>
<line x1="566" y1="125.35" x2="573.1" y2="125.35" stroke="#80CBB3" stroke-width="1.6"/>
<text x="578.5" y="127.6" font-size="7.35" text-anchor="start" fill="#000" font-weight="normal">CMC−Pitt</text>
<line x1="566" y1="133.6" x2="573.1" y2="133.6" stroke="#EEA674" stroke-width="1.6"/>
<text x="578.5" y="135.85" font-size="7.35" text-anchor="start" fill="#000" font-weight="normal">GVEX−SMRI</text>
<line x1="566" y1="141.85" x2="573.1" y2="141.85" stroke="#B5B1DD" stroke-width="1.6"/>
<text x="578.5" y="144.1" font-size="7.35" text-anchor="start" fill="#000" font-weight="normal">BipSeq−sACC</text>
<rect x="511.8" y="23.8" width="122.9" height="131.2" fill="none" stroke="#333333" stroke-width="1.07"/>
<line x1="507.6" y1="29.5" x2="511.8" y2="29.5" stroke="#333333" stroke-width="1.25"/>
<text x="504.3" y="32.6" font-size="8.6" text-anchor="end" fill="#4D4D4D" font-weight="normal">1.00</text>
<line x1="516.9" y1="155" x2="516.9" y2="159.4" stroke="#333333" stroke-width="1.25"/>
<text x="516.9" y="169.5" font-size="8.6" text-anchor="middle" fill="#4D4D4D" font-weight="normal">1.00</text>
<line x1="507.6" y1="59.55" x2="511.8" y2="59.55" stroke="#333333" stroke-width="1.25"/>
<text x="504.3" y="62.65" font-size="8.6" text-anchor="end" fill="#4D4D4D" font-weight="normal">0.75</text>
<line x1="544.88" y1="155" x2="544.88" y2="159.4" stroke="#333333" stroke-width="1.25"/>
<text x="544.88" y="169.5" font-size="8.6" text-anchor="middle" fill="#4D4D4D" font-weight="normal">0.75</text>
<line x1="507.6" y1="89.6" x2="511.8" y2="89.6" stroke="#333333" stroke-width="1.25"/>
<text x="504.3" y="92.7" font-size="8.6" text-anchor="end" fill="#4D4D4D" font-weight="normal">0.50</text>
<line x1="572.85" y1="155" x2="572.85" y2="159.4" stroke="#333333" stroke-width="1.25"/>
<text x="572.85" y="169.5" font-size="8.6" text-anchor="middle" fill="#4D4D4D" font-weight="normal">0.50</text>
<line x1="507.6" y1="119.65" x2="511.8" y2="119.65" stroke="#333333" stroke-width="1.25"/>
<text x="504.3" y="122.75" font-size="8.6" text-anchor="end" fill="#4D4D4D" font-weight="normal">0.25</text>
<line x1="600.82" y1="155" x2="600.82" y2="159.4" stroke="#333333" stroke-width="1.25"/>
<text x="600.82" y="169.5" font-size="8.6" text-anchor="middle" fill="#4D4D4D" font-weight="normal">0.25</text>
<line x1="507.6" y1="149.7" x2="511.8" y2="149.7" stroke="#333333" stroke-width="1.25"/>
<text x="504.3" y="152.8" font-size="8.6" text-anchor="end" fill="#4D4D4D" font-weight="normal">0.00</text>
<line x1="628.8" y1="155" x2="628.8" y2="159.4" stroke="#333333" stroke-width="1.25"/>
<text x="628.8" y="169.5" font-size="8.6" text-anchor="middle" fill="#4D4D4D" font-weight="normal">0.00</text>
<text x="573.2" y="182.8" font-size="10.2" text-anchor="middle" fill="#000" font-weight="normal">Specificity</text>
<text x="482" y="89.4" font-size="10" text-anchor="middle" fill="#000" font-weight="normal" transform="rotate(-90 482 89.4)">Sensitivity</text>
<rect x="511.8" y="216.3" width="122.9" height="131" fill="#fff"/>
<line x1="511.8" y1="341.4" x2="634.7" y2="341.4" stroke="#EBEBEB" stroke-width="1.4"/>
<line x1="628.8" y1="216.3" x2="628.8" y2="347.3" stroke="#EBEBEB" stroke-width="1.4"/>
<line x1="511.8" y1="326.45" x2="634.7" y2="326.45" stroke="#EBEBEB" stroke-width="0.75"/>
<line x1="614.81" y1="216.3" x2="614.81" y2="347.3" stroke="#EBEBEB" stroke-width="0.75"/>
<line x1="511.8" y1="311.5" x2="634.7" y2="311.5" stroke="#EBEBEB" stroke-width="1.4"/>
<line x1="600.82" y1="216.3" x2="600.82" y2="347.3" stroke="#EBEBEB" stroke-width="1.4"/>
<line x1="511.8" y1="296.55" x2="634.7" y2="296.55" stroke="#EBEBEB" stroke-width="0.75"/>
<line x1="586.84" y1="216.3" x2="586.84" y2="347.3" stroke="#EBEBEB" stroke-width="0.75"/>
<line x1="511.8" y1="281.6" x2="634.7" y2="281.6" stroke="#EBEBEB" stroke-width="1.4"/>
<line x1="572.85" y1="216.3" x2="572.85" y2="347.3" stroke="#EBEBEB" stroke-width="1.4"/>
<line x1="511.8" y1="266.65" x2="634.7" y2="266.65" stroke="#EBEBEB" stroke-width="0.75"/>
<line x1="558.86" y1="216.3" x2="558.86" y2="347.3" stroke="#EBEBEB" stroke-width="0.75"/>
<line x1="511.8" y1="251.7" x2="634.7" y2="251.7" stroke="#EBEBEB" stroke-width="1.4"/>
<line x1="544.88" y1="216.3" x2="544.88" y2="347.3" stroke="#EBEBEB" stroke-width="1.4"/>
<line x1="511.8" y1="236.75" x2="634.7" y2="236.75" stroke="#EBEBEB" stroke-width="0.75"/>
<line x1="530.89" y1="216.3" x2="530.89" y2="347.3" stroke="#EBEBEB" stroke-width="0.75"/>
<line x1="511.8" y1="221.8" x2="634.7" y2="221.8" stroke="#EBEBEB" stroke-width="1.4"/>
<line x1="516.9" y1="216.3" x2="516.9" y2="347.3" stroke="#EBEBEB" stroke-width="1.4"/>
<line x1="516.9" y1="341.4" x2="628.8" y2="221.8" stroke="#BDBDBD" stroke-width="1.35" stroke-dasharray="6.6 6.2"/>
<clipPath id="rocd"><rect x="511.8" y="216.3" width="122.9" height="131"/></clipPath>
<path d="M516.84,339.84 L517.38,328.01 L517.91,321.56 L517.91,318.33 L518.99,318.33 L518.99,315.11 L520.06,315.11 L520.06,311.88 L521.14,311.88 L521.14,308.66 L522.75,308.66 L522.75,306.51 L523.83,306.51 L523.83,305.43 L525.44,305.43 L525.98,302.2 L526.52,297.9 L526.52,294.68 L527.59,294.68 L527.59,291.45 L528.67,291.45 L528.67,288.23 L529.74,288.23 L529.74,286.08 L530.82,286.08 L530.82,284 L531.45,284 L531.45,281.92 L532.09,281.92 L532.09,278.86 L533.62,278.86 L533.62,275.79 L535.15,275.79 L535.15,273.24 L537.19,273.24 L537.19,271.71 L539.24,271.71 L539.24,270.69 L541.28,270.69 L541.28,268.64 L543.32,268.64 L543.32,265.58 L544.85,265.58 L544.85,263.54 L546.39,263.54 L546.39,261.49 L548.43,261.49 L548.43,259.45 L550.47,259.45 L550.47,257.92 L553.54,257.92 L553.54,256.39 L556.6,256.39 L556.6,255.88 L558.64,255.88 L558.64,255.36 L560.69,255.36 L563.75,254.85 L563.75,253.32 L565.79,253.32 L565.79,252.3 L566.82,252.3 L566.82,249.75 L568.86,249.75 L568.86,247.7 L571.92,247.7 L571.92,246.17 L574.99,246.17 L574.99,244.57 L578.58,244.57 L578.58,243.67 L582.16,243.67 L582.16,242.78 L584.85,242.78 L584.85,241.88 L586.64,241.88 L586.64,240.09 L588.43,240.09 L588.43,237.4 L589.32,237.4 L589.32,236.51 L590.22,236.51 L592.91,236.06 L598.28,236.06 L598.28,234.27 L599.17,234.27 L599.17,232.47 L600.07,232.47 L602.75,232.03 L602.75,231.13 L605.44,231.13 L605.44,230.23 L608.12,230.23 L610.81,229.78 L614.39,229.34 L614.39,228.44 L616.18,228.44 L616.18,226.65 L617.97,226.65 L617.97,224.86 L620.66,224.86 L620.66,223.96 L623.34,223.96 L623.34,223.06 L624.69,223.06 L624.69,222.17 L626.92,222.17 L628.72,221.72" fill="none" stroke="#B5B1DD" stroke-width="1.15" stroke-linejoin="miter" clip-path="url(#rocd)"/>
<path d="M516.9,341.4 L517.16,340.91 L517.16,338.76 L517.54,338.76 L517.54,336.61 L517.91,336.61 L518.45,330.16 L518.67,321.56 L518.67,319.41 L519.1,319.41 L519.1,317.26 L519.53,317.26 L519.53,315.11 L520.06,315.11 L520.06,312.96 L520.6,312.96 L520.6,310.81 L521.14,310.81 L521.14,308.66 L521.68,308.66 L521.68,305.43 L522.75,305.43 L522.75,303.28 L524.37,303.28 L524.37,301.13 L525.98,301.13 L525.98,299.52 L527.59,299.52 L527.59,298.44 L529.2,298.44 L529.2,295.75 L530.28,295.75 L530.28,293.43 L530.67,293.43 L530.67,291.12 L531.06,291.12 L531.06,290.09 L533.11,290.09 L533.11,288.05 L535.15,288.05 L535.15,284.99 L537.19,284.99 L537.19,282.43 L539.24,282.43 L539.24,281.41 L542.3,281.41 L544.85,280.9 L544.85,279.37 L547.41,279.37 L547.41,276.82 L548.43,276.82 L548.43,273.75 L549.45,273.75 L549.45,270.69 L550.47,270.69 L550.47,267.62 L551.49,267.62 L551.49,266.09 L553.54,266.09 L553.54,265.07 L555.58,265.07 L558.64,264.56 L558.64,263.54 L560.69,263.54 L560.69,262.51 L562.73,262.51 L562.73,260.98 L564.77,260.98 L564.77,259.45 L566.82,259.45 L566.82,258.43 L568.86,258.43 L568.86,257.41 L570.9,257.41 L570.9,255.88 L572.94,255.88 L572.94,253.32 L574.99,253.32 L574.99,251.19 L576.78,251.19 L576.78,249.05 L578.58,249.05 L578.58,246.36 L580.37,246.36 L580.37,245.47 L582.16,245.47 L582.16,244.57 L583.95,244.57 L583.95,243.67 L586.64,243.67 L586.64,242.78 L588.43,242.78 L588.43,239.19 L589.32,239.19 L589.32,235.61 L590.22,235.61 L590.22,232.92 L591.11,232.92 L591.11,231.58 L592.91,231.58 L595.59,231.13 L595.59,229.78 L597.38,229.78 L597.38,228.89 L599.17,228.89 L601.86,228.44 L604.54,227.99 L607.23,227.54 L607.23,226.2 L609.91,226.2 L609.91,224.86 L611.71,224.86 L611.71,223.51 L613.5,223.51 L613.5,222.62 L616.18,222.62 L617.97,222.17 L621.55,221.99 L625.13,221.72 L628.72,221.72" fill="none" stroke="#EEA674" stroke-width="1.15" stroke-linejoin="miter" clip-path="url(#rocd)"/>
<path d="M516.84,325.86 L516.84,323.71 L517.38,323.71 L517.38,321.56 L517.91,321.56 L520.06,321.02 L520.06,318.6 L520.6,318.6 L520.6,316.18 L521.14,316.18 L521.14,314.03 L521.68,314.03 L521.68,311.88 L522.22,311.88 L522.75,307.58 L522.75,304.89 L523.29,304.89 L523.29,302.2 L523.83,302.2 L524.37,297.9 L524.9,294.68 L524.9,292.53 L525.98,292.53 L525.98,290.38 L527.59,290.38 L527.59,288.23 L529.2,288.23 L529.2,286.1 L531.16,286.1 L531.16,283.97 L533.11,283.97 L538.21,283.45 L538.21,282.18 L540.26,282.18 L540.26,280.9 L542.3,280.9 L546.39,280.39 L549.45,279.88 L549.45,277.84 L552.51,277.84 L552.51,276.82 L554.56,276.82 L558.64,276.82 L565.28,276.82 L565.79,273.75 L569.37,273.24 L569.88,266.6 L569.88,263.54 L570.9,263.54 L574.99,263.03 L575.5,257.41 L575.5,255.02 L577.04,255.02 L577.04,252.63 L578.58,252.63 L578.58,249.95 L580.37,249.95 L582.16,249.5 L582.16,248.15 L583.95,248.15 L583.95,245.47 L584.85,245.47 L584.85,242.78 L586.64,242.78 L586.64,239.19 L588.43,239.19 L588.43,237.85 L590.22,237.85 L590.22,234.71 L591.11,234.71 L591.11,232.47 L592.01,232.47 L592.01,229.78 L592.91,229.78 L592.91,228.89 L593.8,228.89 L597.38,228.44 L597.38,226.65 L599.17,226.65 L599.17,225.75 L600.07,225.75 L608.12,225.75 L608.12,224.86 L609.47,224.86 L609.47,223.51 L610.81,223.51 L610.81,222.17 L611.71,222.17 L615.29,221.72 L619.76,221.72 L625.13,221.72 L628.72,221.72" fill="none" stroke="#80CBB3" stroke-width="1.15" stroke-linejoin="miter" clip-path="url(#rocd)"/>
<path d="M516.84,340.91 L516.84,328.01 L517.16,321.56 L517.16,319.14 L517.54,319.14 L517.54,316.72 L517.91,316.72 L517.91,315.11 L518.99,315.11 L519.53,309.73 L520.06,306.51 L520.6,302.2 L520.6,300.59 L521.68,300.59 L521.68,299.52 L522.75,299.52 L523.29,296.83 L523.29,294.68 L524.37,294.68 L524.9,291.45 L525.44,289.3 L525.98,286.08 L525.98,285 L527.05,285 L527.05,283.72 L529.57,283.72 L529.57,282.43 L532.09,282.43 L536.17,282.43 L536.17,279.88 L537.19,279.88 L537.19,276.82 L538.21,276.82 L538.21,273.75 L539.75,273.75 L539.75,271.71 L541.28,271.71 L541.28,270.69 L543.32,270.69 L544.85,270.69 L545.36,266.6 L545.88,261.49 L545.88,259.96 L546.9,259.96 L546.9,258.43 L548.43,258.43 L548.43,254.85 L549.45,254.85 L549.45,253.83 L550.47,253.83 L552.51,253.32 L552.51,252.3 L554.05,252.3 L556.6,251.79 L558.64,251.28 L558.64,249.24 L560.18,249.24 L560.69,247.7 L562.73,247.19 L564.77,246.68 L564.77,245.66 L566.3,245.66 L568.86,245.15 L568.86,244.13 L570.9,244.13 L573.97,243.62 L573.97,242.6 L576.01,242.6 L576.01,241.88 L579.48,241.88 L579.48,240.54 L580.82,240.54 L580.82,239.64 L582.16,239.64 L582.16,238.3 L583.95,238.3 L583.95,236.51 L585.3,236.51 L585.74,233.82 L588.43,233.37 L590.22,233.37 L592.91,233.37 L592.91,232.47 L595.59,232.47 L595.59,231.13 L597.38,231.13 L597.38,229.34 L598.28,229.34 L601.86,228.89 L605.44,228.89 L608.12,228.44 L608.12,227.54 L609.02,227.54 L612.6,227.1 L616.18,226.65 L616.18,225.3 L617.08,225.3 L619.76,225.3 L623.34,225.3 L623.79,223.51 L623.79,222.17 L625.13,222.17 L628.72,221.72" fill="none" stroke="#000000" stroke-width="1.15" stroke-linejoin="miter" clip-path="url(#rocd)"/>
<rect x="563.5" y="301.8" width="62.5" height="38" fill="#fff"/>
<line x1="566" y1="309.4" x2="573.1" y2="309.4" stroke="#000000" stroke-width="1.6"/>
<text x="578.5" y="311.65" font-size="7.35" text-anchor="start" fill="#000" font-weight="normal">CMC−HBCC</text>
<line x1="566" y1="317.65" x2="573.1" y2="317.65" stroke="#80CBB3" stroke-width="1.6"/>
<text x="578.5" y="319.9" font-size="7.35" text-anchor="start" fill="#000" font-weight="normal">CMC−Pitt</text>
<line x1="566" y1="325.9" x2="573.1" y2="325.9" stroke="#EEA674" stroke-width="1.6"/>
<text x="578.5" y="328.15" font-size="7.35" text-anchor="start" fill="#000" font-weight="normal">GVEX−SMRI</text>
<line x1="566" y1="334.15" x2="573.1" y2="334.15" stroke="#B5B1DD" stroke-width="1.6"/>
<text x="578.5" y="336.4" font-size="7.35" text-anchor="start" fill="#000" font-weight="normal">BipSeq−sACC</text>
<rect x="511.8" y="216.3" width="122.9" height="131" fill="none" stroke="#333333" stroke-width="1.07"/>
<line x1="507.6" y1="221.8" x2="511.8" y2="221.8" stroke="#333333" stroke-width="1.25"/>
<text x="504.3" y="224.9" font-size="8.6" text-anchor="end" fill="#4D4D4D" font-weight="normal">1.00</text>
<line x1="516.9" y1="347.3" x2="516.9" y2="351.7" stroke="#333333" stroke-width="1.25"/>
<text x="516.9" y="361.2" font-size="8.6" text-anchor="middle" fill="#4D4D4D" font-weight="normal">1.00</text>
<line x1="507.6" y1="251.7" x2="511.8" y2="251.7" stroke="#333333" stroke-width="1.25"/>
<text x="504.3" y="254.8" font-size="8.6" text-anchor="end" fill="#4D4D4D" font-weight="normal">0.75</text>
<line x1="544.88" y1="347.3" x2="544.88" y2="351.7" stroke="#333333" stroke-width="1.25"/>
<text x="544.88" y="361.2" font-size="8.6" text-anchor="middle" fill="#4D4D4D" font-weight="normal">0.75</text>
<line x1="507.6" y1="281.6" x2="511.8" y2="281.6" stroke="#333333" stroke-width="1.25"/>
<text x="504.3" y="284.7" font-size="8.6" text-anchor="end" fill="#4D4D4D" font-weight="normal">0.50</text>
<line x1="572.85" y1="347.3" x2="572.85" y2="351.7" stroke="#333333" stroke-width="1.25"/>
<text x="572.85" y="361.2" font-size="8.6" text-anchor="middle" fill="#4D4D4D" font-weight="normal">0.50</text>
<line x1="507.6" y1="311.5" x2="511.8" y2="311.5" stroke="#333333" stroke-width="1.25"/>
<text x="504.3" y="314.6" font-size="8.6" text-anchor="end" fill="#4D4D4D" font-weight="normal">0.25</text>
<line x1="600.82" y1="347.3" x2="600.82" y2="351.7" stroke="#333333" stroke-width="1.25"/>
<text x="600.82" y="361.2" font-size="8.6" text-anchor="middle" fill="#4D4D4D" font-weight="normal">0.25</text>
<line x1="507.6" y1="341.4" x2="511.8" y2="341.4" stroke="#333333" stroke-width="1.25"/>
<text x="504.3" y="344.5" font-size="8.6" text-anchor="end" fill="#4D4D4D" font-weight="normal">0.00</text>
<line x1="628.8" y1="347.3" x2="628.8" y2="351.7" stroke="#333333" stroke-width="1.25"/>
<text x="628.8" y="361.2" font-size="8.6" text-anchor="middle" fill="#4D4D4D" font-weight="normal">0.00</text>
<text x="573.2" y="374.2" font-size="10.2" text-anchor="middle" fill="#000" font-weight="normal">Specificity</text>
<text x="482" y="281.8" font-size="10" text-anchor="middle" fill="#000" font-weight="normal" transform="rotate(-90 482 281.8)">Sensitivity</text>
<rect x="511.8" y="388.3" width="122.9" height="131" fill="#fff"/>
<line x1="511.8" y1="513.8" x2="634.7" y2="513.8" stroke="#EBEBEB" stroke-width="1.4"/>
<line x1="628.8" y1="388.3" x2="628.8" y2="519.3" stroke="#EBEBEB" stroke-width="1.4"/>
<line x1="511.8" y1="498.86" x2="634.7" y2="498.86" stroke="#EBEBEB" stroke-width="0.75"/>
<line x1="614.81" y1="388.3" x2="614.81" y2="519.3" stroke="#EBEBEB" stroke-width="0.75"/>
<line x1="511.8" y1="483.92" x2="634.7" y2="483.92" stroke="#EBEBEB" stroke-width="1.4"/>
<line x1="600.82" y1="388.3" x2="600.82" y2="519.3" stroke="#EBEBEB" stroke-width="1.4"/>
<line x1="511.8" y1="468.99" x2="634.7" y2="468.99" stroke="#EBEBEB" stroke-width="0.75"/>
<line x1="586.84" y1="388.3" x2="586.84" y2="519.3" stroke="#EBEBEB" stroke-width="0.75"/>
<line x1="511.8" y1="454.05" x2="634.7" y2="454.05" stroke="#EBEBEB" stroke-width="1.4"/>
<line x1="572.85" y1="388.3" x2="572.85" y2="519.3" stroke="#EBEBEB" stroke-width="1.4"/>
<line x1="511.8" y1="439.11" x2="634.7" y2="439.11" stroke="#EBEBEB" stroke-width="0.75"/>
<line x1="558.86" y1="388.3" x2="558.86" y2="519.3" stroke="#EBEBEB" stroke-width="0.75"/>
<line x1="511.8" y1="424.18" x2="634.7" y2="424.18" stroke="#EBEBEB" stroke-width="1.4"/>
<line x1="544.88" y1="388.3" x2="544.88" y2="519.3" stroke="#EBEBEB" stroke-width="1.4"/>
<line x1="511.8" y1="409.24" x2="634.7" y2="409.24" stroke="#EBEBEB" stroke-width="0.75"/>
<line x1="530.89" y1="388.3" x2="530.89" y2="519.3" stroke="#EBEBEB" stroke-width="0.75"/>
<line x1="511.8" y1="394.3" x2="634.7" y2="394.3" stroke="#EBEBEB" stroke-width="1.4"/>
<line x1="516.9" y1="388.3" x2="516.9" y2="519.3" stroke="#EBEBEB" stroke-width="1.4"/>
<line x1="516.9" y1="513.8" x2="628.8" y2="394.3" stroke="#BDBDBD" stroke-width="1.35" stroke-dasharray="6.6 6.2"/>
<clipPath id="rocf"><rect x="511.8" y="388.3" width="122.9" height="131"/></clipPath>
<path d="M516.9,513.8 L516.9,511.85 L517.57,511.85 L517.57,509.9 L518.23,509.9 L518.23,506.78 L519.27,506.78 L519.27,503.14 L520.83,503.14 L520.83,501.58 L522.39,501.58 L525.51,501.06 L525.51,498.98 L527.06,498.98 L527.06,495.86 L528.1,495.86 L528.1,492.22 L529.66,492.22 L529.66,490.15 L531.22,490.15 L532.78,489.63 L532.78,488.07 L534.86,488.07 L534.86,485.99 L536.42,485.99 L536.42,482.87 L537.97,482.87 L537.97,480.79 L539.53,480.79 L539.53,478.09 L540.64,478.09 L540.64,475.4 L541.75,475.4 L541.75,472.7 L542.86,472.7 L542.86,470 L543.96,470 L543.96,468.6 L546.11,468.6 L546.11,465.91 L547.72,465.91 L547.72,463.76 L548.26,463.76 L548.26,461.61 L548.8,461.61 L548.8,459.46 L549.6,459.46 L549.6,457.31 L550.41,457.31 L550.41,456.24 L552.56,456.24 L552.56,454.09 L554.7,454.09 L554.7,450.86 L556.32,450.86 L556.32,449.25 L557.93,449.25 L557.93,446.56 L560.08,446.56 L560.08,444.95 L562.22,444.95 L562.22,443.87 L564.37,443.87 L564.37,442.26 L567.06,442.26 L567.06,440.65 L569.21,440.65 L569.21,439.03 L570.82,439.03 L570.82,437.42 L572.43,437.42 L572.43,435.27 L574.04,435.27 L574.04,432.58 L576.19,432.58 L576.19,430.97 L578.34,430.97 L578.34,429.01 L580.59,429.01 L580.59,428.07 L583.39,428.07 L583.39,426.68 L586.18,426.68 L586.18,425.74 L588.98,425.74 L588.98,424.81 L591.78,424.81 L591.78,422.95 L593.64,422.95 L593.64,421.08 L595.04,421.08 L595.04,418.29 L596.44,418.29 L596.44,415.96 L598.3,415.96 L598.3,414.1 L600.16,414.1 L600.16,411.77 L601.1,411.77 L601.1,409.44 L602.03,409.44 L602.03,408.5 L602.96,408.5 L602.96,407.57 L604.82,407.57 L604.82,406.64 L606.69,406.64 L609.48,406.17 L609.48,405.24 L612.28,405.24 L612.28,403.84 L614.14,403.84 L614.14,402.45 L616.01,402.45 L616.01,401.05 L617.87,401.05 L617.87,400.12 L619.73,400.12 L619.73,398.72 L621.6,398.72 L621.6,397.32 L623.46,397.32 L623.46,395.92 L625.33,395.92 L625.33,394.52 L627.19,394.52 L628.8,394.3" fill="none" stroke="#B5B1DD" stroke-width="1.15" stroke-linejoin="miter" clip-path="url(#rocf)"/>
<path d="M516.9,513.8 L517.71,513.53 L518.23,508.86 L518.23,506.78 L518.75,506.78 L518.75,504.7 L519.27,504.7 L519.27,502.62 L519.79,502.62 L519.79,500.54 L520.31,500.54 L520.31,498.46 L521.35,498.46 L521.35,495.86 L522.39,495.86 L522.39,494.3 L523.95,494.3 L523.95,492.22 L524.99,492.22 L525.51,489.11 L525.51,487.03 L526.55,487.03 L527.06,482.87 L527.58,480.79 L530.7,480.79 L532.78,480.79 L534.86,480.27 L534.86,478.71 L536.42,478.71 L536.42,475.59 L537.45,475.59 L537.97,473.51 L537.97,471.76 L540.97,471.76 L540.97,470 L543.96,470 L543.96,469.14 L547.19,469.14 L547.19,468.06 L550.41,468.06 L550.41,465.91 L552.56,465.91 L552.56,462.69 L553.63,462.69 L553.63,460.54 L555.24,460.54 L555.24,458.39 L556.85,458.39 L556.85,457.31 L559,457.31 L559,455.16 L561.15,455.16 L561.15,453.55 L562.22,453.55 L562.22,452.47 L564.37,452.47 L566.52,451.94 L566.52,450.86 L567.59,450.86 L567.59,449.25 L569.74,449.25 L569.74,447.63 L571.89,447.63 L571.89,446.56 L573.5,446.56 L573.5,444.41 L575.11,444.41 L575.11,442.8 L577.26,442.8 L577.26,441.72 L579.41,441.72 L579.41,440 L580.59,440 L580.59,438.33 L584.32,438.33 L584.32,436.46 L587.12,436.46 L587.12,435.06 L589.91,435.06 L593.64,434.6 L598.3,434.13 L598.3,432.27 L600.16,432.27 L600.16,430.87 L602.03,430.87 L602.03,429.01 L604.82,429.01 L608.55,428.54 L608.55,427.14 L609.95,427.14 L609.95,425.28 L611.35,425.28 L611.35,423.41 L612.28,423.41 L612.74,419.69 L612.74,414.1 L613.21,412.23 L613.21,410.83 L614.61,410.83 L615.07,407.57 L615.54,405.24 L615.54,404.31 L617.4,404.31 L620.67,404.31 L623.46,403.84 L623.46,401.98 L624.39,401.98 L624.39,400.58 L625.79,400.58 L625.79,398.25 L626.72,398.25 L626.72,396.85 L628.12,396.85 L628.8,394.3" fill="none" stroke="#EEA674" stroke-width="1.15" stroke-linejoin="miter" clip-path="url(#rocf)"/>
<path d="M516.9,513.8 L517.71,513.8 L517.71,510.94 L519.27,510.94 L519.27,507.82 L520.31,507.82 L520.31,505.74 L520.83,505.74 L520.83,503.66 L521.35,503.66 L521.35,502.62 L523.43,502.62 L527.58,502.62 L528.1,497.42 L528.62,494.3 L529.14,491.19 L529.66,487.03 L529.66,484.95 L530.7,484.95 L531.22,480.79 L531.22,476.63 L531.74,472.47 L535.9,472.47 L537.97,472.47 L537.97,470.4 L539.01,470.4 L539.53,466.24 L540.2,465.91 L543.96,465.91 L543.96,464.84 L546.11,464.84 L546.65,462.69 L546.65,460.54 L548.26,460.54 L548.26,458.92 L549.87,458.92 L549.87,457.31 L551.48,457.31 L551.48,455.16 L552.02,455.16 L552.02,453.01 L552.56,453.01 L552.56,449.78 L553.63,449.78 L553.63,448.17 L555.24,448.17 L555.24,445.48 L556.85,445.48 L556.85,443.33 L557.93,443.33 L557.93,441.72 L559,441.72 L559,439.03 L560.08,439.03 L562.22,438.49 L566.52,438.49 L569.74,438.49 L569.74,435.81 L571.89,435.81 L571.89,432.58 L572.96,432.58 L572.96,431.51 L575.11,431.51 L575.11,429.89 L577.26,429.89 L577.26,427.2 L578.34,427.2 L578.34,425.05 L579.95,425.05 L579.95,423.41 L581.52,423.41 L581.52,421.55 L583.39,421.55 L583.39,420.62 L585.25,420.62 L585.25,419.69 L588.05,419.69 L588.05,418.75 L589.91,418.75 L589.91,417.82 L591.78,417.82 L591.78,416.89 L593.64,416.89 L593.64,415.03 L596.44,415.03 L596.44,413.16 L598.3,413.16 L598.3,410.37 L599.7,410.37 L599.7,408.04 L601.1,408.04 L601.1,407.11 L602.96,407.11 L602.96,405.24 L604.36,405.24 L607.62,404.78 L610.41,404.31 L610.41,401.98 L611.35,401.98 L611.35,400.12 L612.28,400.12 L612.28,398.25 L614.14,398.25 L614.14,397.32 L616.01,397.32 L619.73,396.85 L621.6,396.39 L621.6,395.46 L623.46,395.46 L623.46,394.52 L625.33,394.52 L625.33,393.59 L627.19,393.59 L628.8,393.59" fill="none" stroke="#80CBB3" stroke-width="1.15" stroke-linejoin="miter" clip-path="url(#rocf)"/>
<path d="M516.68,513.01 L517.19,508.86 L517.19,505.74 L518.23,505.74 L518.75,503.14 L518.75,501.06 L519.79,501.06 L519.79,497.42 L520.83,497.42 L520.83,496.38 L521.87,496.38 L523.43,495.86 L523.43,494.3 L524.47,494.3 L524.47,493.26 L525.51,493.26 L525.51,491.19 L527.06,491.19 L527.06,489.63 L528.1,489.63 L529.14,489.11 L529.14,487.55 L531.22,487.55 L532.78,487.03 L534.34,486.51 L534.86,484.95 L534.86,483.39 L536.42,483.39 L536.42,481.83 L537.45,481.83 L537.45,480.79 L538.49,480.79 L538.49,478.09 L539.59,478.09 L539.59,475.4 L540.69,475.4 L540.69,472.7 L541.79,472.7 L541.79,470 L542.89,470 L542.89,469.14 L546.11,469.14 L550.41,468.6 L550.41,466.99 L551.48,466.99 L551.48,464.3 L552.56,464.3 L552.56,460.54 L554.17,460.54 L554.17,459.46 L555.78,459.46 L559,459.46 L562.22,459.46 L562.22,457.31 L563.3,457.31 L563.3,455.16 L564.37,455.16 L564.37,453.01 L565.45,453.01 L565.98,450.86 L565.98,448.71 L567.06,448.71 L567.06,447.1 L568.67,447.1 L568.67,446.02 L569.74,446.02 L569.74,444.41 L570.82,444.41 L570.82,443.33 L572.43,443.33 L572.43,441.72 L574.04,441.72 L574.04,440.11 L576.19,440.11 L576.19,439.03 L578.34,439.03 L578.34,436.93 L580.59,436.93 L580.59,434.6 L583.39,434.6 L583.39,432.73 L586.18,432.73 L586.18,431.34 L588.98,431.34 L588.98,429.94 L591.31,429.94 L591.31,428.07 L592.71,428.07 L592.71,425.28 L593.64,425.28 L594.11,422.48 L594.11,419.69 L595.04,419.69 L595.04,416.89 L595.97,416.89 L595.97,415.96 L597.37,415.96 L600.16,415.96 L602.96,415.49 L602.96,413.16 L604.82,413.16 L606.69,412.7 L606.69,411.3 L608.55,411.3 L608.55,409.44 L609.48,409.44 L609.48,407.57 L610.41,407.57 L611.81,407.11 L611.81,405.24 L613.21,405.24 L613.21,404.31 L615.07,404.31 L615.07,402.91 L616.94,402.91 L616.94,401.98 L618.8,401.98 L618.8,400.58 L619.73,400.58 L619.73,399.18 L621.6,399.18 L621.6,397.32 L623.46,397.32 L623.46,395.92 L625.33,395.92 L625.33,394.52 L627.19,394.52 L628.8,394.3 L629.05,393.59" fill="none" stroke="#000000" stroke-width="1.15" stroke-linejoin="miter" clip-path="url(#rocf)"/>
<rect x="563.5" y="473.8" width="62.5" height="38" fill="#fff"/>
<line x1="566" y1="481.4" x2="573.1" y2="481.4" stroke="#000000" stroke-width="1.6"/>
<text x="578.5" y="483.65" font-size="7.35" text-anchor="start" fill="#000" font-weight="normal">CMC−HBCC</text>
<line x1="566" y1="489.65" x2="573.1" y2="489.65" stroke="#80CBB3" stroke-width="1.6"/>
<text x="578.5" y="491.9" font-size="7.35" text-anchor="start" fill="#000" font-weight="normal">CMC−Pitt</text>
<line x1="566" y1="497.9" x2="573.1" y2="497.9" stroke="#EEA674" stroke-width="1.6"/>
<text x="578.5" y="500.15" font-size="7.35" text-anchor="start" fill="#000" font-weight="normal">GVEX−SMRI</text>
<line x1="566" y1="506.15" x2="573.1" y2="506.15" stroke="#B5B1DD" stroke-width="1.6"/>
<text x="578.5" y="508.4" font-size="7.35" text-anchor="start" fill="#000" font-weight="normal">BipSeq−sACC</text>
<rect x="511.8" y="388.3" width="122.9" height="131" fill="none" stroke="#333333" stroke-width="1.07"/>
<line x1="507.6" y1="394.3" x2="511.8" y2="394.3" stroke="#333333" stroke-width="1.25"/>
<text x="504.3" y="397.4" font-size="8.6" text-anchor="end" fill="#4D4D4D" font-weight="normal">1.00</text>
<line x1="516.9" y1="519.3" x2="516.9" y2="523.7" stroke="#333333" stroke-width="1.25"/>
<text x="516.9" y="533.2" font-size="8.6" text-anchor="middle" fill="#4D4D4D" font-weight="normal">1.00</text>
<line x1="507.6" y1="424.18" x2="511.8" y2="424.18" stroke="#333333" stroke-width="1.25"/>
<text x="504.3" y="427.28" font-size="8.6" text-anchor="end" fill="#4D4D4D" font-weight="normal">0.75</text>
<line x1="544.88" y1="519.3" x2="544.88" y2="523.7" stroke="#333333" stroke-width="1.25"/>
<text x="544.88" y="533.2" font-size="8.6" text-anchor="middle" fill="#4D4D4D" font-weight="normal">0.75</text>
<line x1="507.6" y1="454.05" x2="511.8" y2="454.05" stroke="#333333" stroke-width="1.25"/>
<text x="504.3" y="457.15" font-size="8.6" text-anchor="end" fill="#4D4D4D" font-weight="normal">0.50</text>
<line x1="572.85" y1="519.3" x2="572.85" y2="523.7" stroke="#333333" stroke-width="1.25"/>
<text x="572.85" y="533.2" font-size="8.6" text-anchor="middle" fill="#4D4D4D" font-weight="normal">0.50</text>
<line x1="507.6" y1="483.92" x2="511.8" y2="483.92" stroke="#333333" stroke-width="1.25"/>
<text x="504.3" y="487.02" font-size="8.6" text-anchor="end" fill="#4D4D4D" font-weight="normal">0.25</text>
<line x1="600.82" y1="519.3" x2="600.82" y2="523.7" stroke="#333333" stroke-width="1.25"/>
<text x="600.82" y="533.2" font-size="8.6" text-anchor="middle" fill="#4D4D4D" font-weight="normal">0.25</text>
<line x1="507.6" y1="513.8" x2="511.8" y2="513.8" stroke="#333333" stroke-width="1.25"/>
<text x="504.3" y="516.9" font-size="8.6" text-anchor="end" fill="#4D4D4D" font-weight="normal">0.00</text>
<line x1="628.8" y1="519.3" x2="628.8" y2="523.7" stroke="#333333" stroke-width="1.25"/>
<text x="628.8" y="533.2" font-size="8.6" text-anchor="middle" fill="#4D4D4D" font-weight="normal">0.00</text>
<text x="573.2" y="546.4" font-size="10.2" text-anchor="middle" fill="#000" font-weight="normal">Specificity</text>
<text x="482" y="453.8" font-size="10" text-anchor="middle" fill="#000" font-weight="normal" transform="rotate(-90 482 453.8)">Sensitivity</text>
<text x="47.4" y="34.7" font-size="18.3" text-anchor="middle" fill="#000" font-weight="bold">a</text>
<text x="466.5" y="34.9" font-size="18.3" text-anchor="middle" fill="#000" font-weight="bold">b</text>
<text x="47.6" y="229.1" font-size="18.3" text-anchor="middle" fill="#000" font-weight="bold">c</text>
<text x="466.1" y="230.6" font-size="18.3" text-anchor="middle" fill="#000" font-weight="bold">d</text>
<text x="47.45" y="401.2" font-size="18.3" text-anchor="middle" fill="#000" font-weight="bold">e</text>
<text x="467.4" y="402.5" font-size="18.3" text-anchor="middle" fill="#000" font-weight="bold">f</text>
</svg>
</body></html>
